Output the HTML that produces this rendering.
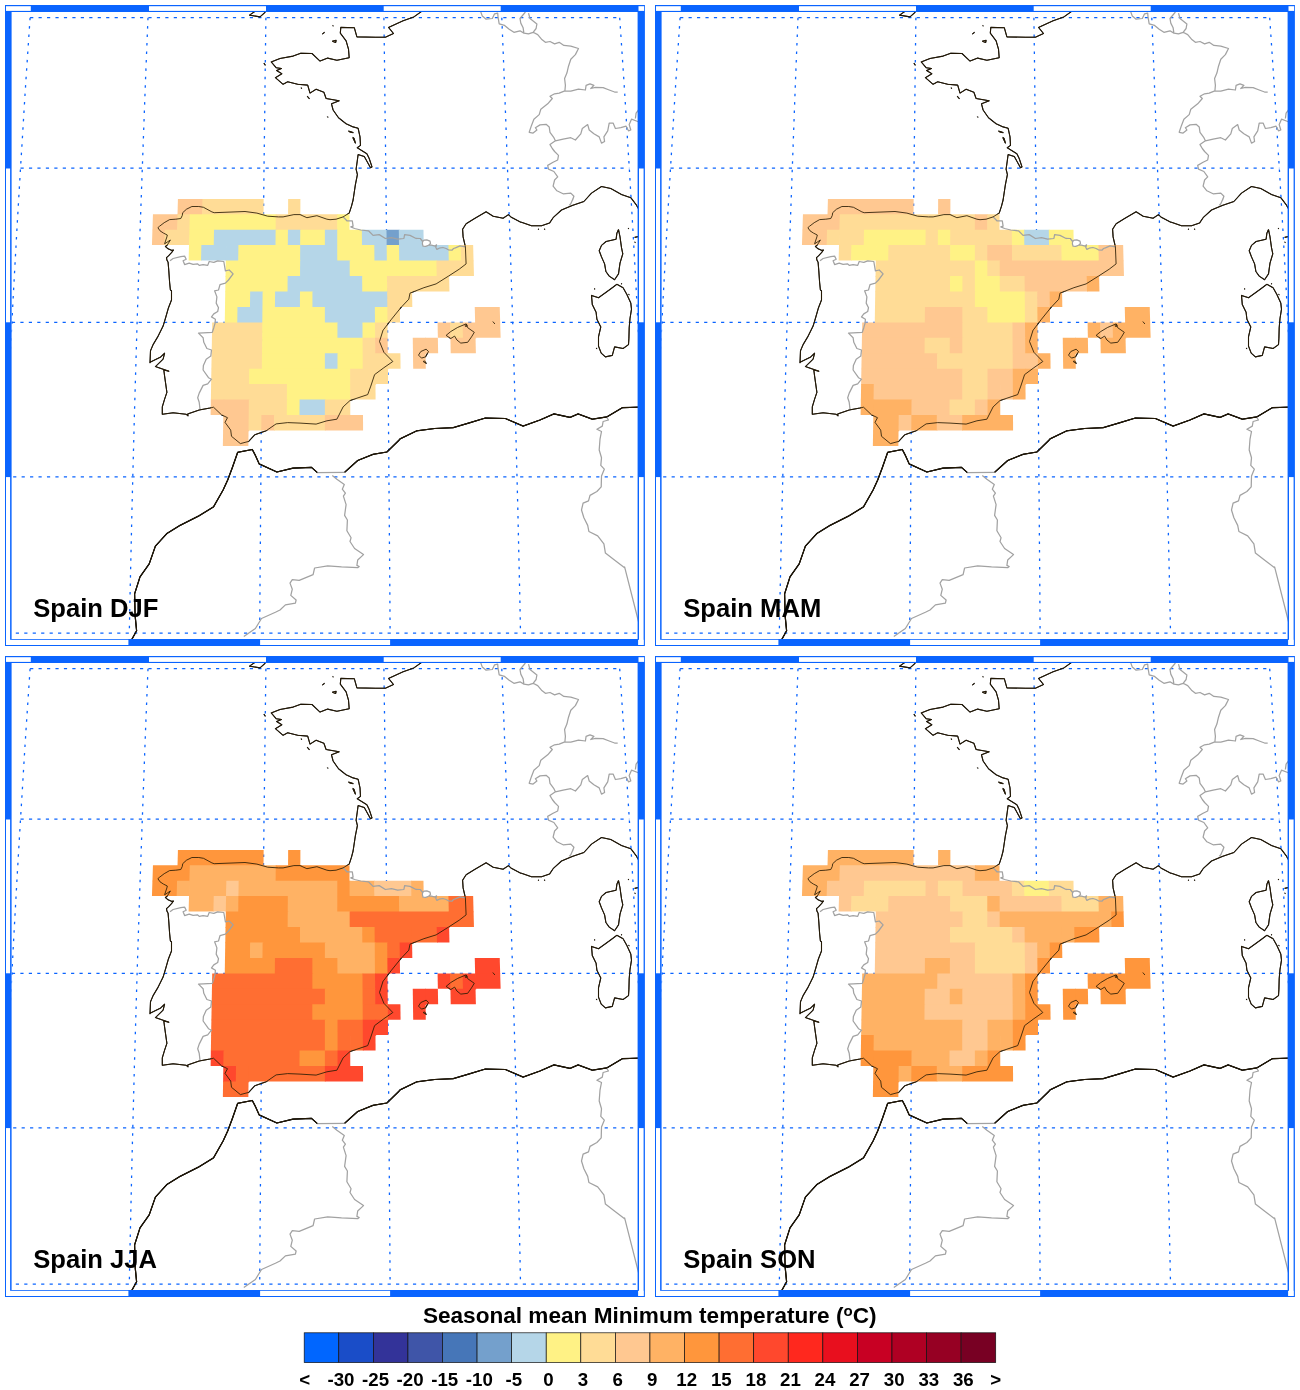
<!DOCTYPE html>
<html><head><meta charset="utf-8"><title>Seasonal mean Minimum temperature</title>
<style>html,body{margin:0;padding:0;background:#fff}svg{display:block}text{font-family:"Liberation Sans",sans-serif;font-weight:bold;fill:#000}</style></head><body>
<svg width="1300" height="1390" viewBox="0 0 1300 1390">
<rect width="1300" height="1390" fill="#fff"/>
<clipPath id="cp"><rect x="11.6" y="11.9" width="626.4" height="627.1"/></clipPath>
<g transform="translate(0 0)">
<g clip-path="url(#cp)">
<path d="M30.1 17.7L28.1 47.6L26.1 77.6L24.2 107.7L22.4 137.9L20.5 168.2L18.7 198.9L16.9 229.7L15.2 260.5L13.5 291.4L11.9 322.4L10.3 353.2L8.9 384.1L7.4 415L6.1 445.9L4.7 476.9L3.5 508.1L2.2 539.4L1 570.6L-0.1 601.9L-1.1 633.1M148 17.7L146.8 47.6L145.6 77.6L144.5 107.7L143.4 137.9L142.3 168.2L141.2 198.9L140.1 229.7L139.1 260.5L138.1 291.4L137.1 322.4L136.2 353.2L135.3 384.1L134.4 415L133.6 445.9L132.8 476.9L132 508.1L131.3 539.4L130.6 570.6L129.9 601.9L129.3 633.1M265.9 17.7L265.5 47.6L265.1 77.6L264.8 107.7L264.4 137.9L264 168.2L263.7 198.9L263.3 229.7L263 260.5L262.6 291.4L262.3 322.4L262 353.2L261.7 384.1L261.4 415L261.1 445.9L260.9 476.9L260.6 508.1L260.4 539.4L260.1 570.6L259.9 601.9L259.7 633.1M383.9 17.7L384.3 47.6L384.7 77.6L385 107.7L385.4 137.9L385.8 168.2L386.1 198.9L386.5 229.7L386.8 260.5L387.2 291.4L387.5 322.4L387.8 353.2L388.1 384.1L388.4 415L388.7 445.9L388.9 476.9L389.2 508.1L389.4 539.4L389.7 570.6L389.9 601.9L390.1 633.1M501.8 17.7L503 47.6L504.2 77.6L505.3 107.7L506.4 137.9L507.5 168.2L508.6 198.9L509.7 229.7L510.7 260.5L511.7 291.4L512.7 322.4L513.6 353.2L514.5 384.1L515.4 415L516.2 445.9L517 476.9L517.8 508.1L518.5 539.4L519.2 570.6L519.9 601.9L520.5 633.1M619.7 17.7L621.7 47.6L623.7 77.6L625.6 107.7L627.4 137.9L629.3 168.2L631.1 198.9L632.9 229.7L634.6 260.5L636.3 291.4L637.9 322.4L639.5 353.2L640.9 384.1L642.4 415L643.7 445.9L645.1 476.9L646.3 508.1L647.6 539.4L648.8 570.6L649.9 601.9L650.9 633.1" fill="none" stroke="#0a64ff" stroke-width="1.3" stroke-dasharray="2.5 5.95"/><path d="M30.1 17.7H619.7M20.5 168.2H629.3M11.9 322.4H637.9M4.7 476.9H645.1M-1.1 633.1H650.9" fill="none" stroke="#0a64ff" stroke-width="1.3" stroke-dasharray="3.2 5.25"/>
<path d="M421.5 11.5L413.9 16.9L403.1 20.8L388.5 27.4L393.5 33.5L385.4 37.2L375.4 37.2L356.9 36.9L354.3 27.7L340.8 27.4L340.3 33.1L346.1 40.8L348.5 49.2L349.2 57.7L336.9 60.3L327.7 58.1L320 61.1L312 53.5L300.8 53.2L293.1 56.1L280 58.5L271.2 61.9L276.1 67.7L281.5 68.5L276.6 70.5L281.9 73.8L275.4 77.7L283.1 84.3L287.7 81.8L297.7 84.3L307.7 85.1L310 93.1L316.1 89.2L323.9 92.3L326.1 98.5L339.2 100.8L331.5 103.8L333.1 110L338.5 117.7L346.1 123.8L353.1 126.9L358.1 128.2L360 136.9L360.5 145.4L357.2 147.7L366.9 153.8L369.2 158.5L372 166.9L370.5 167.7L364.3 156.6L358.1 154.6L357.2 161.5L356.1 169.2L357.4 174.6L355.4 184.6L353.1 200L351.5 206.2L349.2 213.1L343.1 216.9L336.1 219.2L330 219.7L326.9 219.2L316.9 215.7L306.9 217.7L300 214.6L293.9 214.6L283.1 216.9L278.5 216.9L267.7 216.2L256.9 213.1L245 211.5L214.2 212.7L211.9 211.9L203.5 207.3L198.8 206.5L191.9 206.5L186.5 209.2L182.7 212.7L182.3 215.4L180.8 218.5L175.8 219.2L169.6 219.6L164.2 222.7L159.6 226.2L157.9 227.7L160 230.8L163.5 233.1L167.3 235L166.9 236.9L164.6 243.8L170.4 240L167.3 245L165.4 246.5L168.1 248.8L171.9 250.4L173.5 250L171.5 252.7L168.5 255.8L166.5 257.7L166.9 260L168.1 262.3L168.8 270.8L169.6 282.3L170.4 290L171.5 290.8L171.5 300L168.5 307.7L165.4 318.5L163.1 326.1L157.7 336.9L153.1 344.6L150.5 350.8L150 362.8L150 362.3L160.8 356.9L164.6 353.1L163.1 359.2L155.4 366.6L163.1 369.2L168.9 371.2L163.8 370L164.6 376.1L166.9 392.3L164.6 399.2L162.3 406.9L162.3 414.3L173.1 412.8L186.2 414.3L188 415.9L187.7 413.9L199.2 410L210 408L213.5 407.2L221.5 414.8L227.5 417.7L225 422.3L230.7 430.1L231.5 436.3L240.4 443.6L248.7 441.4L254.9 434.7L266.1 430.8L276.1 423.9L287.7 422.6L300 423.1L316.1 424.1L326.9 420.8L336.9 419.2L343.1 406.9L350 400.5L367.7 394.6L370.8 386.1L374.6 374.6L383.9 367.7L392.8 361.5L383.9 352.3L379.5 341.5L383.1 330L383.9 329.2L391.5 319.2L400.8 307.7L408.8 299.2L410 293.1L423.9 287.7L436.1 283.9L448.5 276.1L459.2 269.2L466.1 263.9L465.4 246.9L463.1 236.9L462.6 229.2L466.1 223.8L474.6 218.5L486.1 211.8L493.1 216.2L503.1 218.2L508.5 214.6L510.8 216.9L520.8 222.3L521.5 222.3L531.5 225.8L541.5 225.8L549.5 223.1L553.1 217.7L561.5 210L572.3 205.4L583.9 201.5L591.5 193.1L601.5 186.5L610.8 188.5L621.5 194.6L630.8 197.7L636.1 204.6L639.2 210M332.3 41.2L336.1 40.3L335.7 42.5L332.3 41.2M322.3 34.1L324.6 32.3M332.6 25.5L333.4 26.1M300.9 87.7L301.9 88.6M307.2 96.2L309.5 98.9M327.4 116.6L328.1 117.4M348.5 131.1L353.1 132.6L350 132L348.5 131.1M352.8 137.4L355.4 143.1L354.1 138.5L352.8 137.4M263.9 63.1L265.4 65.4M265.4 12L260 16.9L249.5 15.1L255.4 11.1M446.1 335.4L450.8 338.5L454.6 336.1L456.9 340L460.8 343.1L467.7 342.3L471.5 336.9L474.3 332.3L467.7 327.7L466.1 323.9L457.7 327.4L450.8 331.5L446.1 335.4M465.1 325.4L466.6 324.3L467.2 326.1L465.4 326.5L465.1 325.4M418.5 355.1L420.8 351.5L426.1 349.2L428.5 351.5L425.4 356.9L421.5 358.1L418.5 355.1M423.1 361.5L426.1 363.4L424.6 360.9L423.1 361.5M492.8 321.5L494.9 324M618.5 229.5L620 236.9L621.5 247.7L622.8 253.8L620 263.1L618.5 273.9L614.6 279.7L609.2 276.1L605.9 271.5L604.6 263.9L601.5 256.9L599.2 250.8L601.5 245.4L606.1 241.5L616.1 239.2L616.9 233.1L618.5 229.5M616.9 284.3L623.1 287.7L626.9 294.6L630.8 303.1L631.5 309.2L630 318.5L629.2 327.7L628.9 338.5L628.5 344.6L623.1 348.5L614.6 346.9L612.3 355.4L605.4 356.9L601.2 353.1L598.5 346.1L598.5 336.9L600.8 326.9L596.9 319.2L596.1 312.3L592.3 304.6L591.5 295.4L598.5 297.7L606.1 292.3L612.3 287.7L616.9 284.3M538 228.9L538.9 229.5M544.1 228.9L545.1 229.5M594.1 288.6L595.1 289.2M628 228.2L628.9 228.8M628.5 294.3L629.4 294.9M621.1 283.5L622 284.1M596.1 348.1L597.1 348.8M634.6 242L635.5 242.6M634.6 237.4L638.8 236.5M131.5 640L136.6 630.8L135.1 615.4L134.6 593.9L140 576.9L149.2 563.9L155.4 546.1L166.9 533.5L180 525.4L198.5 516.1L213.5 506.9L223.1 490L227.7 480L232.3 467.7L237.7 452.3L252.3 449.5L255.4 455.4L259.2 463.9L276.9 472L293.1 468.1L311.5 467.4L317.4 472.6M344.6 472.3L357.7 460.5L373.1 454.3L386.9 452L399.2 440L400 438.9L416.9 430.8L434.6 428.5L453.1 427.7L468.5 423.1L485.4 418L505.4 418.5L523.1 426.1L540 420L553.9 413.9L570 417.4L578.1 413.9L592.3 419.2L606.9 416.9L622.3 407.7L639.2 407.2" fill="none" stroke="#050505" stroke-width="1.1" stroke-linejoin="round"/><path d="M131.5 640L136.6 630.8L135.1 615.4L134.6 593.9L140 576.9L149.2 563.9L155.4 546.1L166.9 533.5L180 525.4L198.5 516.1L213.5 506.9L223.1 490L227.7 480L232.3 467.7L237.7 452.3L252.3 449.5L255.4 455.4L259.2 463.9L276.9 472L293.1 468.1L311.5 467.4L317.4 472.6M344.6 472.3L357.7 460.5L373.1 454.3L386.9 452L399.2 440L400 438.9L416.9 430.8L434.6 428.5L453.1 427.7L468.5 423.1L485.4 418L505.4 418.5L523.1 426.1L540 420L553.9 413.9L570 417.4L578.1 413.9L592.3 419.2L606.9 416.9L622.3 407.7L639.2 407.2" fill="none" stroke="#050505" stroke-width="1.25" stroke-linejoin="round"/>
<path fill="#ffc891" d="M177.93 198.89L203.13 198.89L202.77 214.97L177.50 214.97Z"/>
<path fill="#ffdc96" d="M202.43 198.89L263.66 198.89L263.49 214.97L202.07 214.97Z"/>
<path fill="#ffdc96" d="M288.16 198.89L300.41 198.89L300.33 214.97L288.05 214.97Z"/>
<path fill="#ffc891" d="M152.94 214.27L178.20 214.27L177.78 230.37L152.44 230.37Z"/>
<path fill="#ffdc96" d="M177.50 214.27L190.49 214.27L190.10 230.37L177.08 230.37Z"/>
<path fill="#fff285" d="M189.79 214.27L276.47 214.27L276.33 230.37L189.40 230.37Z"/>
<path fill="#ffdc96" d="M275.77 214.27L337.88 214.27L337.92 230.37L275.63 230.37Z"/>
<path fill="#fff285" d="M337.18 214.27L349.47 214.27L349.54 230.37L337.22 230.37Z"/>
<path fill="#ffc891" d="M152.44 229.67L165.46 229.67L165.01 245.09L151.95 245.09Z"/>
<path fill="#ffdc96" d="M164.76 229.67L190.10 229.67L189.71 245.09L164.31 245.09Z"/>
<path fill="#fff285" d="M189.40 229.67L214.73 229.67L214.42 245.79L189.01 245.79Z"/>
<path fill="#b5d6e8" d="M214.03 229.67L276.33 229.67L276.19 245.79L213.72 245.79Z"/>
<path fill="#fff285" d="M275.63 229.67L288.64 229.67L288.54 245.79L275.49 245.79Z"/>
<path fill="#b5d6e8" d="M287.94 229.67L300.96 229.67L300.89 245.79L287.84 245.79Z"/>
<path fill="#fff285" d="M300.26 229.67L325.60 229.67L325.60 245.79L300.19 245.79Z"/>
<path fill="#b5d6e8" d="M324.90 229.67L337.92 229.67L337.95 245.79L324.90 245.79Z"/>
<path fill="#fff285" d="M337.22 229.67L362.56 229.67L362.66 245.79L337.25 245.79Z"/>
<path fill="#b5d6e8" d="M361.86 229.67L387.19 229.67L387.37 245.79L361.96 245.79Z"/>
<path fill="#74a0cc" d="M386.49 229.67L399.51 229.67L399.72 245.79L386.67 245.79Z"/>
<path fill="#b5d6e8" d="M398.81 229.67L423.45 229.67L423.73 245.79L399.02 245.79Z"/>
<path fill="#fff285" d="M189.01 245.09L202.07 245.09L201.72 260.52L188.63 260.52Z"/>
<path fill="#b5d6e8" d="M201.37 245.09L226.77 245.09L226.50 260.52L201.02 260.52Z"/>
<path fill="#b5d6e8" d="M226.07 245.09L239.13 245.09L238.89 261.22L225.80 261.22Z"/>
<path fill="#fff285" d="M238.43 245.09L300.89 245.09L300.82 261.22L238.19 261.22Z"/>
<path fill="#b5d6e8" d="M300.19 245.09L337.95 245.09L337.99 261.22L300.12 261.22Z"/>
<path fill="#fff285" d="M337.25 245.09L375.01 245.09L375.15 261.22L337.29 261.22Z"/>
<path fill="#b5d6e8" d="M374.31 245.09L387.37 245.09L387.54 261.22L374.45 261.22Z"/>
<path fill="#fff285" d="M386.67 245.09L399.72 245.09L399.93 261.22L386.84 261.22Z"/>
<path fill="#b5d6e8" d="M399.02 245.09L449.13 245.09L449.48 261.22L399.23 261.22Z"/>
<path fill="#fff285" d="M448.43 245.09L461.49 245.09L461.87 261.22L448.78 261.22Z"/>
<path fill="#ffdc96" d="M460.79 245.09L473.14 245.09L473.55 261.22L461.17 261.22Z"/>
<path fill="#fff285" d="M225.80 260.52L300.82 260.52L300.76 276.67L225.53 276.67Z"/>
<path fill="#b5d6e8" d="M300.12 260.52L350.38 260.52L350.44 276.67L300.06 276.67Z"/>
<path fill="#fff285" d="M349.68 260.52L437.09 260.52L437.40 276.67L349.74 276.67Z"/>
<path fill="#ffdc96" d="M436.39 260.52L449.48 260.52L449.82 276.67L436.70 276.67Z"/>
<path fill="#ffdc96" d="M448.78 260.52L473.55 260.52L473.96 275.97L449.12 275.97Z"/>
<path fill="#fff285" d="M225.53 275.97L288.33 275.97L288.23 292.13L225.26 292.13Z"/>
<path fill="#b5d6e8" d="M287.63 275.97L362.87 275.97L362.97 292.13L287.53 292.13Z"/>
<path fill="#fff285" d="M362.17 275.97L387.71 275.97L387.88 292.13L362.27 292.13Z"/>
<path fill="#ffdc96" d="M387.01 275.97L412.55 275.97L412.79 292.13L387.18 292.13Z"/>
<path fill="#ffdc96" d="M411.85 275.97L449.12 275.97L449.45 291.43L412.09 291.43Z"/>
<path fill="#fff285" d="M225.26 291.43L250.87 291.43L250.67 307.61L225.00 307.61Z"/>
<path fill="#b5d6e8" d="M250.17 291.43L263.32 291.43L263.16 307.61L249.97 307.61Z"/>
<path fill="#fff285" d="M262.62 291.43L275.78 291.43L275.65 307.61L262.46 307.61Z"/>
<path fill="#b5d6e8" d="M275.08 291.43L300.69 291.43L300.62 307.61L274.95 307.61Z"/>
<path fill="#fff285" d="M299.99 291.43L313.14 291.43L313.11 307.61L299.92 307.61Z"/>
<path fill="#b5d6e8" d="M312.44 291.43L387.88 291.43L388.04 307.61L312.41 307.61Z"/>
<path fill="#ffdc96" d="M387.18 291.43L400.33 291.43L400.53 307.61L387.34 307.61Z"/>
<path fill="#ffdc96" d="M399.63 291.43L412.09 291.43L412.32 306.91L399.83 306.91Z"/>
<path fill="#fff285" d="M225.00 306.91L238.18 306.91L237.96 323.10L224.74 323.10Z"/>
<path fill="#b5d6e8" d="M237.48 306.91L263.16 306.91L263.00 323.10L237.26 323.10Z"/>
<path fill="#fff285" d="M262.46 306.91L325.60 306.91L325.60 323.10L262.30 323.10Z"/>
<path fill="#b5d6e8" d="M324.90 306.91L375.55 306.91L375.68 323.10L324.90 323.10Z"/>
<path fill="#fff285" d="M374.85 306.91L388.04 306.91L388.20 323.10L374.98 323.10Z"/>
<path fill="#ffdc96" d="M387.34 306.91L399.83 306.91L400.02 322.40L387.50 322.40Z"/>
<path fill="#ffc891" d="M474.75 306.91L499.73 306.91L500.18 323.10L475.14 323.10Z"/>
<path fill="#ffdc96" d="M212.22 322.40L263.00 322.40L262.84 338.50L211.94 338.50Z"/>
<path fill="#fff285" d="M262.30 322.40L338.12 322.40L338.15 338.50L262.14 338.50Z"/>
<path fill="#b5d6e8" d="M337.42 322.40L363.16 322.40L363.25 338.50L337.45 338.50Z"/>
<path fill="#fff285" d="M362.46 322.40L375.68 322.40L375.81 338.50L362.55 338.50Z"/>
<path fill="#ffdc96" d="M374.98 322.40L387.50 322.40L387.66 338.50L375.11 338.50Z"/>
<path fill="#ffc891" d="M437.58 322.40L450.80 322.40L451.11 337.80L437.86 337.80Z"/>
<path fill="#ffdc96" d="M450.10 322.40L463.32 322.40L463.67 338.50L450.41 338.50Z"/>
<path fill="#ffc891" d="M462.62 322.40L475.84 322.40L476.22 338.50L462.97 338.50Z"/>
<path fill="#ffc891" d="M475.14 322.40L500.18 322.40L500.62 337.80L475.52 337.80Z"/>
<path fill="#ffdc96" d="M211.94 337.80L262.84 337.80L262.69 353.92L211.66 353.92Z"/>
<path fill="#fff285" d="M262.14 337.80L363.25 337.80L363.35 353.92L261.99 353.92Z"/>
<path fill="#ffdc96" d="M362.55 337.80L375.81 337.80L375.93 353.92L362.65 353.92Z"/>
<path fill="#ffc891" d="M375.11 337.80L387.66 337.80L387.81 353.92L375.23 353.92Z"/>
<path fill="#ffc891" d="M412.76 337.80L426.01 337.80L426.26 353.92L412.98 353.92Z"/>
<path fill="#ffc891" d="M425.31 337.80L437.86 337.80L438.14 353.22L425.56 353.22Z"/>
<path fill="#ffc891" d="M450.41 337.80L475.52 337.80L475.89 353.22L450.72 353.22Z"/>
<path fill="#ffdc96" d="M211.66 353.22L262.69 353.22L262.54 369.34L211.39 369.34Z"/>
<path fill="#fff285" d="M261.99 353.22L325.60 353.22L325.60 369.34L261.84 369.34Z"/>
<path fill="#b5d6e8" d="M324.90 353.22L338.18 353.22L338.21 369.34L324.90 369.34Z"/>
<path fill="#fff285" d="M337.48 353.22L363.35 353.22L363.44 369.34L337.51 369.34Z"/>
<path fill="#ffdc96" d="M362.65 353.22L388.51 353.22L388.66 369.34L362.74 369.34Z"/>
<path fill="#ffdc96" d="M387.81 353.22L400.39 353.22L400.57 368.64L387.96 368.64Z"/>
<path fill="#ffc891" d="M412.98 353.22L425.56 353.22L425.80 368.64L413.19 368.64Z"/>
<path fill="#ffdc96" d="M211.39 368.64L249.93 368.64L249.75 384.78L211.12 384.78Z"/>
<path fill="#fff285" d="M249.23 368.64L350.82 368.64L350.88 384.78L249.05 384.78Z"/>
<path fill="#ffdc96" d="M350.12 368.64L376.05 368.64L376.17 384.78L350.18 384.78Z"/>
<path fill="#ffdc96" d="M375.35 368.64L387.96 368.64L388.11 384.08L375.47 384.08Z"/>
<path fill="#ffdc96" d="M211.12 384.08L287.67 384.08L287.59 400.23L210.87 400.23Z"/>
<path fill="#fff285" d="M286.97 384.08L350.88 384.08L350.94 400.23L286.89 400.23Z"/>
<path fill="#ffdc96" d="M350.18 384.08L375.47 384.08L375.58 399.53L350.24 399.53Z"/>
<path fill="#ffc891" d="M210.87 399.53L224.24 399.53L224.01 414.98L210.61 414.98Z"/>
<path fill="#ffc891" d="M223.54 399.53L249.58 399.53L249.41 415.68L223.31 415.68Z"/>
<path fill="#ffdc96" d="M248.88 399.53L287.59 399.53L287.50 415.68L248.71 415.68Z"/>
<path fill="#fff285" d="M286.89 399.53L300.26 399.53L300.20 415.68L286.80 415.68Z"/>
<path fill="#b5d6e8" d="M299.56 399.53L325.60 399.53L325.60 415.68L299.50 415.68Z"/>
<path fill="#ffdc96" d="M324.90 399.53L350.24 399.53L350.30 415.68L324.90 415.68Z"/>
<path fill="#ffc891" d="M223.31 414.98L249.41 414.98L249.24 431.14L223.09 431.14Z"/>
<path fill="#ffdc96" d="M248.71 414.98L262.11 414.98L261.97 430.44L248.54 430.44Z"/>
<path fill="#ffc891" d="M261.41 414.98L274.80 414.98L274.69 430.44L261.27 430.44Z"/>
<path fill="#ffdc96" d="M274.10 414.98L325.60 414.98L325.60 430.44L273.99 430.44Z"/>
<path fill="#ffc891" d="M324.90 414.98L363.00 414.98L363.08 430.44L324.90 430.44Z"/>
<path fill="#ffc891" d="M223.09 430.44L248.54 430.44L248.38 445.91L222.87 445.91Z"/>
<path fill="#fff" d="M422.6 241.5L424 240.2L426.8 239.9L430 241.1L430.5 243.4L428.6 245.2L425.8 246.4L423.1 246.2L422.4 243.8L422.6 241.5Z"/>
<path d="M317.4 472.6L344.6 472.3M170 260.8L173.1 258.5L180.8 256.6L184.6 256.1L186.2 259.2L183.1 260.8L184.6 264.6L189.2 263.1L193.1 264.3L197.7 263.9L199.2 265.4L203.1 264.6L207.7 265.4L209.2 261.5L213.8 262.3L217.7 260.8L223.8 261.5L225.4 270.8L229.2 270L233.1 273.9L228.5 280L225.4 283.1L220 284.6L218.5 290L214.6 290.8L216.9 296.9L216.2 303.1L218.5 307.7L217.7 311.5L213.8 313.9L211.5 316.9L215.4 319.2L215.1 323.1L213.8 327.7L212.3 332.3L198.5 333.1L198.5 333.1L203.1 337.7L203.8 342.3L206.9 348.5L211.5 350L210.8 356.1L206.2 359.2L203.4 365.4L203.1 370L208.5 377.7L211.5 379.2L207.7 383.9L203.1 385.4L199.2 393.1L197.7 397.7L199.2 402.3L200 409.2M343.1 216.9L346.9 220.8L352.3 220.8L353.1 226.2L350.8 226.9L354.6 228.5L360.8 230L368.5 230.8L373.1 235.4L379.2 234.6L385.4 238.5L391.5 237.7L397.7 239.2L403.9 238.5L404.6 234.6L410 235.4L416.1 238.5L415.9 238.3L420.3 238.5L422.6 241.5L422.4 243.8L423.1 246.2L425.8 246.4L428.6 245.2L431.4 245.2L435.1 246.2L436.5 244.8L435.8 247.5L436.9 249.4L439.2 248.2L442.9 247.5L446.1 248.5L448.4 249.8L452.1 250.1L453.5 248.5L455.4 247.8L460 245.9L465.4 246.9M422.6 241.5L424 240.2L426.8 239.9L430 241.1L430.5 243.4L428.6 245.2L425.8 246.4L423.1 246.2L422.4 243.8L422.6 241.5M480.8 12L482.3 16.1L486.1 19.2L492.3 18.5L494.6 13.8L497.7 13.1L498.1 17.7L499.2 23.9L504.6 25.4L509.2 29.2L513.9 32.3L520 30.8L523.9 33.1L528.5 33.9L533.1 32.3L537.7 34.6L541.5 39.2L545.4 42.3L550 41.5L554.6 43.9L559.2 42.3L563.9 45.4L570.8 46.1L578.5 48.5L575.4 54.6L570.8 59.2L568.5 66.2L566.9 73.1L564.6 78.5L565.4 85.4L564.9 90.8M525.4 12L520 18.5L520.8 23.1L523.1 27.7L523.9 33.1M528.5 13.1L530 18.5L536.9 23.9L536.1 28.5L533.1 32.3M564.9 90.8L570.8 91.1L578.5 89.2L585.4 90L586.1 85.4L590 83.8L593.9 85.4L590.8 88.5L595.4 87.4L603.1 87.7L609.2 90L614.6 92L617.7 92M564.9 90.8L559.2 93.1L554.6 93.8L550 96.2L552.3 98.5L547.7 103.8L540.8 109.2L539.2 114.6L533.9 119.2L531.5 125.4L529.2 132.3L533.1 133.1L536.9 130L535.4 127.7L540 124.9L546.1 124.3L549.2 126.9L550 132.3L553.9 137.7L555.4 140.8M555.4 140.8L563.1 139.2L570.8 137.7L575.4 140L580.8 133.8L582.3 128.5L587.7 124.6L589.2 130L593.9 133.8L599.2 136.9L601.5 143.1L604.6 141.5L603.9 136.9L607.7 130.8L609.2 123.1L613.1 123.1L615.4 128.5L620.8 127.7L626.1 126.2L628.5 130.8L630.8 130L629.2 124.6L631.5 119.2L637.7 121.5L640 121.5M635.4 118.5L636.1 113.1L638.5 110M555.4 140.8L550 144.6L552.3 148.5L554.6 151.5L558.5 155.4L557.7 160L553.1 162.3L547.7 165.4L548.5 169.2L553.9 171.5L557.7 176.9L554.6 180L553.1 186.2L556.9 190.8L563.1 193.8L570.8 193.1L573.9 196.2L572.6 200L573.1 198.5L570.8 203.8L569.2 205.4M332.3 475.4L336.9 479.2L344.3 484.6L342.3 489.2L345.4 493.1L343.4 496.1L346.1 504.6L344.6 515.4L347.4 520L346.9 530.8L351.1 537.7L350 541.5L354.6 548.5L363.5 554.6L357.7 560L356.9 565.4L359.2 566.5L357.7 567.7L341.5 566.9L327.7 565.9L314.6 568L313.1 574.6L299.2 580.3L292.3 579.7L290 583.1L292.3 589.2L290.8 595.4L296.1 600L295.4 603.1L285.4 604.9L280 610L275.4 612.3L261.5 618.5L255.4 628.5L243.8 636.6M606.9 417.7L608.5 420L603.1 421.5L602.3 426.1L596.9 429.2L601.5 431.5L600 439.2L599.2 450L601.5 457.7L600.8 465.4L604.3 469.2L601.5 476.1L601.2 486.9L596.9 491.5L590 495.4L588.5 500.8L583.1 503.1L581.5 510L583.9 517.7L587.7 525.4L588.9 531.5L597.7 535.9L603.9 543.9L605.4 553.1L615.4 560.8L624.6 567.7L624.6 566.9L638.5 621.5" fill="none" stroke="#a2a2a2" stroke-width="1.25" stroke-linejoin="round"/>
<path d="M421.5 11.5L413.9 16.9L403.1 20.8L388.5 27.4L393.5 33.5L385.4 37.2L375.4 37.2L356.9 36.9L354.3 27.7L340.8 27.4L340.3 33.1L346.1 40.8L348.5 49.2L349.2 57.7L336.9 60.3L327.7 58.1L320 61.1L312 53.5L300.8 53.2L293.1 56.1L280 58.5L271.2 61.9L276.1 67.7L281.5 68.5L276.6 70.5L281.9 73.8L275.4 77.7L283.1 84.3L287.7 81.8L297.7 84.3L307.7 85.1L310 93.1L316.1 89.2L323.9 92.3L326.1 98.5L339.2 100.8L331.5 103.8L333.1 110L338.5 117.7L346.1 123.8L353.1 126.9L358.1 128.2L360 136.9L360.5 145.4L357.2 147.7L366.9 153.8L369.2 158.5L372 166.9L370.5 167.7L364.3 156.6L358.1 154.6L357.2 161.5L356.1 169.2L357.4 174.6L355.4 184.6L353.1 200L351.5 206.2L349.2 213.1L343.1 216.9L336.1 219.2L330 219.7L326.9 219.2L316.9 215.7L306.9 217.7L300 214.6L293.9 214.6L283.1 216.9L278.5 216.9L267.7 216.2L256.9 213.1L245 211.5L214.2 212.7L211.9 211.9L203.5 207.3L198.8 206.5L191.9 206.5L186.5 209.2L182.7 212.7L182.3 215.4L180.8 218.5L175.8 219.2L169.6 219.6L164.2 222.7L159.6 226.2L157.9 227.7L160 230.8L163.5 233.1L167.3 235L166.9 236.9L164.6 243.8L170.4 240L167.3 245L165.4 246.5L168.1 248.8L171.9 250.4L173.5 250L171.5 252.7L168.5 255.8L166.5 257.7L166.9 260L168.1 262.3L168.8 270.8L169.6 282.3L170.4 290L171.5 290.8L171.5 300L168.5 307.7L165.4 318.5L163.1 326.1L157.7 336.9L153.1 344.6L150.5 350.8L150 362.8L150 362.3L160.8 356.9L164.6 353.1L163.1 359.2L155.4 366.6L163.1 369.2L168.9 371.2L163.8 370L164.6 376.1L166.9 392.3L164.6 399.2L162.3 406.9L162.3 414.3L173.1 412.8L186.2 414.3L188 415.9L187.7 413.9L199.2 410L210 408L213.5 407.2L221.5 414.8L227.5 417.7L225 422.3L230.7 430.1L231.5 436.3L240.4 443.6L248.7 441.4L254.9 434.7L266.1 430.8L276.1 423.9L287.7 422.6L300 423.1L316.1 424.1L326.9 420.8L336.9 419.2L343.1 406.9L350 400.5L367.7 394.6L370.8 386.1L374.6 374.6L383.9 367.7L392.8 361.5L383.9 352.3L379.5 341.5L383.1 330L383.9 329.2L391.5 319.2L400.8 307.7L408.8 299.2L410 293.1L423.9 287.7L436.1 283.9L448.5 276.1L459.2 269.2L466.1 263.9L465.4 246.9L463.1 236.9L462.6 229.2L466.1 223.8L474.6 218.5L486.1 211.8L493.1 216.2L503.1 218.2L508.5 214.6L510.8 216.9L520.8 222.3L521.5 222.3L531.5 225.8L541.5 225.8L549.5 223.1L553.1 217.7L561.5 210L572.3 205.4L583.9 201.5L591.5 193.1L601.5 186.5L610.8 188.5L621.5 194.6L630.8 197.7L636.1 204.6L639.2 210M332.3 41.2L336.1 40.3L335.7 42.5L332.3 41.2M322.3 34.1L324.6 32.3M332.6 25.5L333.4 26.1M300.9 87.7L301.9 88.6M307.2 96.2L309.5 98.9M327.4 116.6L328.1 117.4M348.5 131.1L353.1 132.6L350 132L348.5 131.1M352.8 137.4L355.4 143.1L354.1 138.5L352.8 137.4M263.9 63.1L265.4 65.4M265.4 12L260 16.9L249.5 15.1L255.4 11.1M446.1 335.4L450.8 338.5L454.6 336.1L456.9 340L460.8 343.1L467.7 342.3L471.5 336.9L474.3 332.3L467.7 327.7L466.1 323.9L457.7 327.4L450.8 331.5L446.1 335.4M465.1 325.4L466.6 324.3L467.2 326.1L465.4 326.5L465.1 325.4M418.5 355.1L420.8 351.5L426.1 349.2L428.5 351.5L425.4 356.9L421.5 358.1L418.5 355.1M423.1 361.5L426.1 363.4L424.6 360.9L423.1 361.5M492.8 321.5L494.9 324M618.5 229.5L620 236.9L621.5 247.7L622.8 253.8L620 263.1L618.5 273.9L614.6 279.7L609.2 276.1L605.9 271.5L604.6 263.9L601.5 256.9L599.2 250.8L601.5 245.4L606.1 241.5L616.1 239.2L616.9 233.1L618.5 229.5M616.9 284.3L623.1 287.7L626.9 294.6L630.8 303.1L631.5 309.2L630 318.5L629.2 327.7L628.9 338.5L628.5 344.6L623.1 348.5L614.6 346.9L612.3 355.4L605.4 356.9L601.2 353.1L598.5 346.1L598.5 336.9L600.8 326.9L596.9 319.2L596.1 312.3L592.3 304.6L591.5 295.4L598.5 297.7L606.1 292.3L612.3 287.7L616.9 284.3M538 228.9L538.9 229.5M544.1 228.9L545.1 229.5M594.1 288.6L595.1 289.2M628 228.2L628.9 228.8M628.5 294.3L629.4 294.9M621.1 283.5L622 284.1M596.1 348.1L597.1 348.8M634.6 242L635.5 242.6M634.6 237.4L638.8 236.5M131.5 640L136.6 630.8L135.1 615.4L134.6 593.9L140 576.9L149.2 563.9L155.4 546.1L166.9 533.5L180 525.4L198.5 516.1L213.5 506.9L223.1 490L227.7 480L232.3 467.7L237.7 452.3L252.3 449.5L255.4 455.4L259.2 463.9L276.9 472L293.1 468.1L311.5 467.4L317.4 472.6M344.6 472.3L357.7 460.5L373.1 454.3L386.9 452L399.2 440L400 438.9L416.9 430.8L434.6 428.5L453.1 427.7L468.5 423.1L485.4 418L505.4 418.5L523.1 426.1L540 420L553.9 413.9L570 417.4L578.1 413.9L592.3 419.2L606.9 416.9L622.3 407.7L639.2 407.2" fill="none" stroke="#2b1d05" stroke-opacity="0.9" stroke-width="0.95" stroke-linejoin="round"/>
</g>
<path fill="#0a64ff" fill-rule="evenodd" d="M5.0 4.9H644.9V645.9H5.0ZM11.6 11.9V639.0H637.6V11.9Z"/>
<rect fill="#fff" x="6" y="6.2" width="24.8" height="4.7"/>
<rect fill="#fff" x="149" y="6.2" width="117" height="4.7"/>
<rect fill="#fff" x="383.7" y="6.2" width="117" height="4.7"/>
<rect fill="#fff" x="638.5" y="6.2" width="5.6" height="4.7"/>
<rect fill="#fff" x="6" y="639.8" width="122.4" height="5.2"/>
<rect fill="#fff" x="260.1" y="639.8" width="130" height="5.2"/>
<rect fill="#fff" x="638.1" y="639.8" width="5.5" height="5.2"/>
<rect fill="#fff" x="6" y="168.5" width="4.1" height="153.8"/>
<rect fill="#fff" x="6" y="477.1" width="4.1" height="167.9"/>
<rect fill="#fff" x="639" y="168.5" width="4.6" height="153.8"/>
<rect fill="#fff" x="639" y="477.1" width="4.6" height="167.9"/>
<text x="33.3" y="617.2" font-size="25.6">Spain DJF</text>
</g>
<g transform="translate(650 0)">
<g clip-path="url(#cp)">
<path d="M30.1 17.7L28.1 47.6L26.1 77.6L24.2 107.7L22.4 137.9L20.5 168.2L18.7 198.9L16.9 229.7L15.2 260.5L13.5 291.4L11.9 322.4L10.3 353.2L8.9 384.1L7.4 415L6.1 445.9L4.7 476.9L3.5 508.1L2.2 539.4L1 570.6L-0.1 601.9L-1.1 633.1M148 17.7L146.8 47.6L145.6 77.6L144.5 107.7L143.4 137.9L142.3 168.2L141.2 198.9L140.1 229.7L139.1 260.5L138.1 291.4L137.1 322.4L136.2 353.2L135.3 384.1L134.4 415L133.6 445.9L132.8 476.9L132 508.1L131.3 539.4L130.6 570.6L129.9 601.9L129.3 633.1M265.9 17.7L265.5 47.6L265.1 77.6L264.8 107.7L264.4 137.9L264 168.2L263.7 198.9L263.3 229.7L263 260.5L262.6 291.4L262.3 322.4L262 353.2L261.7 384.1L261.4 415L261.1 445.9L260.9 476.9L260.6 508.1L260.4 539.4L260.1 570.6L259.9 601.9L259.7 633.1M383.9 17.7L384.3 47.6L384.7 77.6L385 107.7L385.4 137.9L385.8 168.2L386.1 198.9L386.5 229.7L386.8 260.5L387.2 291.4L387.5 322.4L387.8 353.2L388.1 384.1L388.4 415L388.7 445.9L388.9 476.9L389.2 508.1L389.4 539.4L389.7 570.6L389.9 601.9L390.1 633.1M501.8 17.7L503 47.6L504.2 77.6L505.3 107.7L506.4 137.9L507.5 168.2L508.6 198.9L509.7 229.7L510.7 260.5L511.7 291.4L512.7 322.4L513.6 353.2L514.5 384.1L515.4 415L516.2 445.9L517 476.9L517.8 508.1L518.5 539.4L519.2 570.6L519.9 601.9L520.5 633.1M619.7 17.7L621.7 47.6L623.7 77.6L625.6 107.7L627.4 137.9L629.3 168.2L631.1 198.9L632.9 229.7L634.6 260.5L636.3 291.4L637.9 322.4L639.5 353.2L640.9 384.1L642.4 415L643.7 445.9L645.1 476.9L646.3 508.1L647.6 539.4L648.8 570.6L649.9 601.9L650.9 633.1" fill="none" stroke="#0a64ff" stroke-width="1.3" stroke-dasharray="2.5 5.95"/><path d="M30.1 17.7H619.7M20.5 168.2H629.3M11.9 322.4H637.9M4.7 476.9H645.1M-1.1 633.1H650.9" fill="none" stroke="#0a64ff" stroke-width="1.3" stroke-dasharray="3.2 5.25"/>
<path d="M421.5 11.5L413.9 16.9L403.1 20.8L388.5 27.4L393.5 33.5L385.4 37.2L375.4 37.2L356.9 36.9L354.3 27.7L340.8 27.4L340.3 33.1L346.1 40.8L348.5 49.2L349.2 57.7L336.9 60.3L327.7 58.1L320 61.1L312 53.5L300.8 53.2L293.1 56.1L280 58.5L271.2 61.9L276.1 67.7L281.5 68.5L276.6 70.5L281.9 73.8L275.4 77.7L283.1 84.3L287.7 81.8L297.7 84.3L307.7 85.1L310 93.1L316.1 89.2L323.9 92.3L326.1 98.5L339.2 100.8L331.5 103.8L333.1 110L338.5 117.7L346.1 123.8L353.1 126.9L358.1 128.2L360 136.9L360.5 145.4L357.2 147.7L366.9 153.8L369.2 158.5L372 166.9L370.5 167.7L364.3 156.6L358.1 154.6L357.2 161.5L356.1 169.2L357.4 174.6L355.4 184.6L353.1 200L351.5 206.2L349.2 213.1L343.1 216.9L336.1 219.2L330 219.7L326.9 219.2L316.9 215.7L306.9 217.7L300 214.6L293.9 214.6L283.1 216.9L278.5 216.9L267.7 216.2L256.9 213.1L245 211.5L214.2 212.7L211.9 211.9L203.5 207.3L198.8 206.5L191.9 206.5L186.5 209.2L182.7 212.7L182.3 215.4L180.8 218.5L175.8 219.2L169.6 219.6L164.2 222.7L159.6 226.2L157.9 227.7L160 230.8L163.5 233.1L167.3 235L166.9 236.9L164.6 243.8L170.4 240L167.3 245L165.4 246.5L168.1 248.8L171.9 250.4L173.5 250L171.5 252.7L168.5 255.8L166.5 257.7L166.9 260L168.1 262.3L168.8 270.8L169.6 282.3L170.4 290L171.5 290.8L171.5 300L168.5 307.7L165.4 318.5L163.1 326.1L157.7 336.9L153.1 344.6L150.5 350.8L150 362.8L150 362.3L160.8 356.9L164.6 353.1L163.1 359.2L155.4 366.6L163.1 369.2L168.9 371.2L163.8 370L164.6 376.1L166.9 392.3L164.6 399.2L162.3 406.9L162.3 414.3L173.1 412.8L186.2 414.3L188 415.9L187.7 413.9L199.2 410L210 408L213.5 407.2L221.5 414.8L227.5 417.7L225 422.3L230.7 430.1L231.5 436.3L240.4 443.6L248.7 441.4L254.9 434.7L266.1 430.8L276.1 423.9L287.7 422.6L300 423.1L316.1 424.1L326.9 420.8L336.9 419.2L343.1 406.9L350 400.5L367.7 394.6L370.8 386.1L374.6 374.6L383.9 367.7L392.8 361.5L383.9 352.3L379.5 341.5L383.1 330L383.9 329.2L391.5 319.2L400.8 307.7L408.8 299.2L410 293.1L423.9 287.7L436.1 283.9L448.5 276.1L459.2 269.2L466.1 263.9L465.4 246.9L463.1 236.9L462.6 229.2L466.1 223.8L474.6 218.5L486.1 211.8L493.1 216.2L503.1 218.2L508.5 214.6L510.8 216.9L520.8 222.3L521.5 222.3L531.5 225.8L541.5 225.8L549.5 223.1L553.1 217.7L561.5 210L572.3 205.4L583.9 201.5L591.5 193.1L601.5 186.5L610.8 188.5L621.5 194.6L630.8 197.7L636.1 204.6L639.2 210M332.3 41.2L336.1 40.3L335.7 42.5L332.3 41.2M322.3 34.1L324.6 32.3M332.6 25.5L333.4 26.1M300.9 87.7L301.9 88.6M307.2 96.2L309.5 98.9M327.4 116.6L328.1 117.4M348.5 131.1L353.1 132.6L350 132L348.5 131.1M352.8 137.4L355.4 143.1L354.1 138.5L352.8 137.4M263.9 63.1L265.4 65.4M265.4 12L260 16.9L249.5 15.1L255.4 11.1M446.1 335.4L450.8 338.5L454.6 336.1L456.9 340L460.8 343.1L467.7 342.3L471.5 336.9L474.3 332.3L467.7 327.7L466.1 323.9L457.7 327.4L450.8 331.5L446.1 335.4M465.1 325.4L466.6 324.3L467.2 326.1L465.4 326.5L465.1 325.4M418.5 355.1L420.8 351.5L426.1 349.2L428.5 351.5L425.4 356.9L421.5 358.1L418.5 355.1M423.1 361.5L426.1 363.4L424.6 360.9L423.1 361.5M492.8 321.5L494.9 324M618.5 229.5L620 236.9L621.5 247.7L622.8 253.8L620 263.1L618.5 273.9L614.6 279.7L609.2 276.1L605.9 271.5L604.6 263.9L601.5 256.9L599.2 250.8L601.5 245.4L606.1 241.5L616.1 239.2L616.9 233.1L618.5 229.5M616.9 284.3L623.1 287.7L626.9 294.6L630.8 303.1L631.5 309.2L630 318.5L629.2 327.7L628.9 338.5L628.5 344.6L623.1 348.5L614.6 346.9L612.3 355.4L605.4 356.9L601.2 353.1L598.5 346.1L598.5 336.9L600.8 326.9L596.9 319.2L596.1 312.3L592.3 304.6L591.5 295.4L598.5 297.7L606.1 292.3L612.3 287.7L616.9 284.3M538 228.9L538.9 229.5M544.1 228.9L545.1 229.5M594.1 288.6L595.1 289.2M628 228.2L628.9 228.8M628.5 294.3L629.4 294.9M621.1 283.5L622 284.1M596.1 348.1L597.1 348.8M634.6 242L635.5 242.6M634.6 237.4L638.8 236.5M131.5 640L136.6 630.8L135.1 615.4L134.6 593.9L140 576.9L149.2 563.9L155.4 546.1L166.9 533.5L180 525.4L198.5 516.1L213.5 506.9L223.1 490L227.7 480L232.3 467.7L237.7 452.3L252.3 449.5L255.4 455.4L259.2 463.9L276.9 472L293.1 468.1L311.5 467.4L317.4 472.6M344.6 472.3L357.7 460.5L373.1 454.3L386.9 452L399.2 440L400 438.9L416.9 430.8L434.6 428.5L453.1 427.7L468.5 423.1L485.4 418L505.4 418.5L523.1 426.1L540 420L553.9 413.9L570 417.4L578.1 413.9L592.3 419.2L606.9 416.9L622.3 407.7L639.2 407.2" fill="none" stroke="#050505" stroke-width="1.1" stroke-linejoin="round"/><path d="M131.5 640L136.6 630.8L135.1 615.4L134.6 593.9L140 576.9L149.2 563.9L155.4 546.1L166.9 533.5L180 525.4L198.5 516.1L213.5 506.9L223.1 490L227.7 480L232.3 467.7L237.7 452.3L252.3 449.5L255.4 455.4L259.2 463.9L276.9 472L293.1 468.1L311.5 467.4L317.4 472.6M344.6 472.3L357.7 460.5L373.1 454.3L386.9 452L399.2 440L400 438.9L416.9 430.8L434.6 428.5L453.1 427.7L468.5 423.1L485.4 418L505.4 418.5L523.1 426.1L540 420L553.9 413.9L570 417.4L578.1 413.9L592.3 419.2L606.9 416.9L622.3 407.7L639.2 407.2" fill="none" stroke="#050505" stroke-width="1.25" stroke-linejoin="round"/>
<path fill="#ffc891" d="M177.93 198.89L263.66 198.89L263.49 214.97L177.50 214.97Z"/>
<path fill="#ffc891" d="M288.16 198.89L300.41 198.89L300.33 214.97L288.05 214.97Z"/>
<path fill="#ffc891" d="M152.94 214.27L190.49 214.27L190.10 230.37L152.44 230.37Z"/>
<path fill="#ffdc96" d="M189.79 214.27L325.60 214.27L325.60 230.37L189.40 230.37Z"/>
<path fill="#ffc891" d="M324.90 214.27L337.88 214.27L337.92 230.37L324.90 230.37Z"/>
<path fill="#ffdc96" d="M337.18 214.27L349.47 214.27L349.54 230.37L337.22 230.37Z"/>
<path fill="#ffc891" d="M152.44 229.67L177.78 229.67L177.36 245.09L151.95 245.09Z"/>
<path fill="#ffdc96" d="M177.08 229.67L190.10 229.67L189.71 245.09L176.66 245.09Z"/>
<path fill="#ffdc96" d="M189.40 229.67L214.73 229.67L214.42 245.79L189.01 245.79Z"/>
<path fill="#fff285" d="M214.03 229.67L276.33 229.67L276.19 245.79L213.72 245.79Z"/>
<path fill="#ffdc96" d="M275.63 229.67L288.64 229.67L288.54 245.79L275.49 245.79Z"/>
<path fill="#fff285" d="M287.94 229.67L300.96 229.67L300.89 245.79L287.84 245.79Z"/>
<path fill="#ffdc96" d="M300.26 229.67L362.56 229.67L362.66 245.79L300.19 245.79Z"/>
<path fill="#fff285" d="M361.86 229.67L374.87 229.67L375.01 245.79L361.96 245.79Z"/>
<path fill="#b5d6e8" d="M374.17 229.67L399.51 229.67L399.72 245.79L374.31 245.79Z"/>
<path fill="#fff285" d="M398.81 229.67L423.45 229.67L423.73 245.79L399.02 245.79Z"/>
<path fill="#ffdc96" d="M189.01 245.09L202.07 245.09L201.72 260.52L188.63 260.52Z"/>
<path fill="#fff285" d="M201.37 245.09L226.77 245.09L226.50 260.52L201.02 260.52Z"/>
<path fill="#fff285" d="M226.07 245.09L239.13 245.09L238.89 261.22L225.80 261.22Z"/>
<path fill="#ffdc96" d="M238.43 245.09L300.89 245.09L300.82 261.22L238.19 261.22Z"/>
<path fill="#fff285" d="M300.19 245.09L325.60 245.09L325.60 261.22L300.12 261.22Z"/>
<path fill="#ffdc96" d="M324.90 245.09L337.95 245.09L337.99 261.22L324.90 261.22Z"/>
<path fill="#ffc891" d="M337.25 245.09L362.66 245.09L362.76 261.22L337.29 261.22Z"/>
<path fill="#ffdc96" d="M361.96 245.09L412.07 245.09L412.31 261.22L362.06 261.22Z"/>
<path fill="#fff285" d="M411.37 245.09L449.13 245.09L449.48 261.22L411.61 261.22Z"/>
<path fill="#ffc891" d="M448.43 245.09L473.14 245.09L473.55 261.22L448.78 261.22Z"/>
<path fill="#ffdc96" d="M225.80 260.52L325.60 260.52L325.60 276.67L225.53 276.67Z"/>
<path fill="#fff285" d="M324.90 260.52L337.99 260.52L338.02 276.67L324.90 276.67Z"/>
<path fill="#ffdc96" d="M337.29 260.52L350.38 260.52L350.44 276.67L337.32 276.67Z"/>
<path fill="#ffc891" d="M349.68 260.52L449.48 260.52L449.82 276.67L349.74 276.67Z"/>
<path fill="#ffc891" d="M448.78 260.52L473.55 260.52L473.96 275.97L449.12 275.97Z"/>
<path fill="#ffdc96" d="M225.53 275.97L300.76 275.97L300.69 292.13L225.26 292.13Z"/>
<path fill="#fff285" d="M300.06 275.97L313.18 275.97L313.14 292.13L299.99 292.13Z"/>
<path fill="#ffdc96" d="M312.48 275.97L325.60 275.97L325.60 292.13L312.44 292.13Z"/>
<path fill="#fff285" d="M324.90 275.97L350.44 275.97L350.51 292.13L324.90 292.13Z"/>
<path fill="#ffdc96" d="M349.74 275.97L375.29 275.97L375.42 292.13L349.81 292.13Z"/>
<path fill="#ffc891" d="M374.59 275.97L412.55 275.97L412.79 292.13L374.72 292.13Z"/>
<path fill="#ffc891" d="M411.85 275.97L437.40 275.97L437.70 291.43L412.09 291.43Z"/>
<path fill="#ffb264" d="M436.70 275.97L449.12 275.97L449.45 291.43L437.00 291.43Z"/>
<path fill="#ffdc96" d="M225.26 291.43L325.60 291.43L325.60 307.61L225.00 307.61Z"/>
<path fill="#fff285" d="M324.90 291.43L375.42 291.43L375.55 307.61L324.90 307.61Z"/>
<path fill="#ffdc96" d="M374.72 291.43L387.88 291.43L388.04 307.61L374.85 307.61Z"/>
<path fill="#ffc891" d="M387.18 291.43L400.33 291.43L400.53 307.61L387.34 307.61Z"/>
<path fill="#ffb264" d="M399.63 291.43L412.09 291.43L412.32 306.91L399.83 306.91Z"/>
<path fill="#ffdc96" d="M225.00 306.91L275.65 306.91L275.52 323.10L224.74 323.10Z"/>
<path fill="#ffc891" d="M274.95 306.91L313.11 306.91L313.08 323.10L274.82 323.10Z"/>
<path fill="#ffdc96" d="M312.41 306.91L338.09 306.91L338.12 323.10L312.38 323.10Z"/>
<path fill="#fff285" d="M337.39 306.91L375.55 306.91L375.68 323.10L337.42 323.10Z"/>
<path fill="#ffdc96" d="M374.85 306.91L388.04 306.91L388.20 323.10L374.98 323.10Z"/>
<path fill="#ffb264" d="M387.34 306.91L399.83 306.91L400.02 322.40L387.50 322.40Z"/>
<path fill="#ffb264" d="M474.75 306.91L499.73 306.91L500.18 323.10L475.14 323.10Z"/>
<path fill="#ffc891" d="M212.22 322.40L313.08 322.40L313.05 338.50L211.94 338.50Z"/>
<path fill="#ffdc96" d="M312.38 322.40L363.16 322.40L363.25 338.50L312.35 338.50Z"/>
<path fill="#ffc891" d="M362.46 322.40L375.68 322.40L375.81 338.50L362.55 338.50Z"/>
<path fill="#ffb264" d="M374.98 322.40L387.50 322.40L387.66 338.50L375.11 338.50Z"/>
<path fill="#ffb264" d="M437.58 322.40L450.80 322.40L451.11 337.80L437.86 337.80Z"/>
<path fill="#ffc891" d="M450.10 322.40L463.32 322.40L463.67 338.50L450.41 338.50Z"/>
<path fill="#ffb264" d="M462.62 322.40L475.84 322.40L476.22 338.50L462.97 338.50Z"/>
<path fill="#ffb264" d="M475.14 322.40L500.18 322.40L500.62 337.80L475.52 337.80Z"/>
<path fill="#ffc891" d="M211.94 337.80L275.39 337.80L275.27 353.92L211.66 353.92Z"/>
<path fill="#ffdc96" d="M274.69 337.80L300.50 337.80L300.44 353.92L274.57 353.92Z"/>
<path fill="#ffc891" d="M299.80 337.80L313.05 337.80L313.02 353.92L299.74 353.92Z"/>
<path fill="#ffdc96" d="M312.35 337.80L363.25 337.80L363.35 353.92L312.32 353.92Z"/>
<path fill="#ffc891" d="M362.55 337.80L375.81 337.80L375.93 353.92L362.65 353.92Z"/>
<path fill="#ffb264" d="M375.11 337.80L387.66 337.80L387.81 353.92L375.23 353.92Z"/>
<path fill="#ffb264" d="M412.76 337.80L426.01 337.80L426.26 353.92L412.98 353.92Z"/>
<path fill="#ffb264" d="M425.31 337.80L437.86 337.80L438.14 353.22L425.56 353.22Z"/>
<path fill="#ffb264" d="M450.41 337.80L475.52 337.80L475.89 353.22L450.72 353.22Z"/>
<path fill="#ffc891" d="M211.66 353.22L287.85 353.22L287.76 369.34L211.39 369.34Z"/>
<path fill="#ffdc96" d="M287.15 353.22L363.35 353.22L363.44 369.34L287.06 369.34Z"/>
<path fill="#ffc891" d="M362.65 353.22L388.51 353.22L388.66 369.34L362.74 369.34Z"/>
<path fill="#ffb264" d="M387.81 353.22L400.39 353.22L400.57 368.64L387.96 368.64Z"/>
<path fill="#ffb264" d="M412.98 353.22L425.56 353.22L425.80 368.64L413.19 368.64Z"/>
<path fill="#ffc891" d="M211.39 368.64L312.99 368.64L312.96 384.78L211.12 384.78Z"/>
<path fill="#ffdc96" d="M312.29 368.64L338.21 368.64L338.24 384.78L312.26 384.78Z"/>
<path fill="#ffc891" d="M337.51 368.64L363.44 368.64L363.53 384.78L337.54 384.78Z"/>
<path fill="#ffb264" d="M362.74 368.64L376.05 368.64L376.17 384.78L362.83 384.78Z"/>
<path fill="#ffb264" d="M375.35 368.64L387.96 368.64L388.11 384.08L375.47 384.08Z"/>
<path fill="#ffb264" d="M211.12 384.08L224.47 384.08L224.24 400.23L210.87 400.23Z"/>
<path fill="#ffc891" d="M223.77 384.08L312.96 384.08L312.93 400.23L223.54 400.23Z"/>
<path fill="#ffdc96" d="M312.26 384.08L338.24 384.08L338.27 400.23L312.23 400.23Z"/>
<path fill="#ffc891" d="M337.54 384.08L350.88 384.08L350.94 400.23L337.57 400.23Z"/>
<path fill="#ffc891" d="M350.18 384.08L363.53 384.08L363.61 399.53L350.24 399.53Z"/>
<path fill="#ffb264" d="M362.83 384.08L375.47 384.08L375.58 399.53L362.91 399.53Z"/>
<path fill="#ffb264" d="M210.87 399.53L224.24 399.53L224.01 414.98L210.61 414.98Z"/>
<path fill="#ffb264" d="M223.54 399.53L262.25 399.53L262.11 415.68L223.31 415.68Z"/>
<path fill="#ffc891" d="M261.55 399.53L300.26 399.53L300.20 415.68L261.41 415.68Z"/>
<path fill="#ffdc96" d="M299.56 399.53L325.60 399.53L325.60 415.68L299.50 415.68Z"/>
<path fill="#ffc891" d="M324.90 399.53L338.27 399.53L338.30 415.68L324.90 415.68Z"/>
<path fill="#ffb264" d="M337.57 399.53L350.24 399.53L350.30 415.68L337.60 415.68Z"/>
<path fill="#ffb264" d="M223.31 414.98L249.41 414.98L249.24 431.14L223.09 431.14Z"/>
<path fill="#ffc891" d="M248.71 414.98L262.11 414.98L261.97 430.44L248.54 430.44Z"/>
<path fill="#ffb264" d="M261.41 414.98L287.50 414.98L287.42 430.44L261.27 430.44Z"/>
<path fill="#ffc891" d="M286.80 414.98L312.90 414.98L312.87 430.44L286.72 430.44Z"/>
<path fill="#ffb264" d="M312.20 414.98L363.00 414.98L363.08 430.44L312.17 430.44Z"/>
<path fill="#ffb264" d="M223.09 430.44L248.54 430.44L248.38 445.91L222.87 445.91Z"/>
<path fill="#fff" d="M422.6 241.5L424 240.2L426.8 239.9L430 241.1L430.5 243.4L428.6 245.2L425.8 246.4L423.1 246.2L422.4 243.8L422.6 241.5Z"/>
<path d="M317.4 472.6L344.6 472.3M170 260.8L173.1 258.5L180.8 256.6L184.6 256.1L186.2 259.2L183.1 260.8L184.6 264.6L189.2 263.1L193.1 264.3L197.7 263.9L199.2 265.4L203.1 264.6L207.7 265.4L209.2 261.5L213.8 262.3L217.7 260.8L223.8 261.5L225.4 270.8L229.2 270L233.1 273.9L228.5 280L225.4 283.1L220 284.6L218.5 290L214.6 290.8L216.9 296.9L216.2 303.1L218.5 307.7L217.7 311.5L213.8 313.9L211.5 316.9L215.4 319.2L215.1 323.1L213.8 327.7L212.3 332.3L198.5 333.1L198.5 333.1L203.1 337.7L203.8 342.3L206.9 348.5L211.5 350L210.8 356.1L206.2 359.2L203.4 365.4L203.1 370L208.5 377.7L211.5 379.2L207.7 383.9L203.1 385.4L199.2 393.1L197.7 397.7L199.2 402.3L200 409.2M343.1 216.9L346.9 220.8L352.3 220.8L353.1 226.2L350.8 226.9L354.6 228.5L360.8 230L368.5 230.8L373.1 235.4L379.2 234.6L385.4 238.5L391.5 237.7L397.7 239.2L403.9 238.5L404.6 234.6L410 235.4L416.1 238.5L415.9 238.3L420.3 238.5L422.6 241.5L422.4 243.8L423.1 246.2L425.8 246.4L428.6 245.2L431.4 245.2L435.1 246.2L436.5 244.8L435.8 247.5L436.9 249.4L439.2 248.2L442.9 247.5L446.1 248.5L448.4 249.8L452.1 250.1L453.5 248.5L455.4 247.8L460 245.9L465.4 246.9M422.6 241.5L424 240.2L426.8 239.9L430 241.1L430.5 243.4L428.6 245.2L425.8 246.4L423.1 246.2L422.4 243.8L422.6 241.5M480.8 12L482.3 16.1L486.1 19.2L492.3 18.5L494.6 13.8L497.7 13.1L498.1 17.7L499.2 23.9L504.6 25.4L509.2 29.2L513.9 32.3L520 30.8L523.9 33.1L528.5 33.9L533.1 32.3L537.7 34.6L541.5 39.2L545.4 42.3L550 41.5L554.6 43.9L559.2 42.3L563.9 45.4L570.8 46.1L578.5 48.5L575.4 54.6L570.8 59.2L568.5 66.2L566.9 73.1L564.6 78.5L565.4 85.4L564.9 90.8M525.4 12L520 18.5L520.8 23.1L523.1 27.7L523.9 33.1M528.5 13.1L530 18.5L536.9 23.9L536.1 28.5L533.1 32.3M564.9 90.8L570.8 91.1L578.5 89.2L585.4 90L586.1 85.4L590 83.8L593.9 85.4L590.8 88.5L595.4 87.4L603.1 87.7L609.2 90L614.6 92L617.7 92M564.9 90.8L559.2 93.1L554.6 93.8L550 96.2L552.3 98.5L547.7 103.8L540.8 109.2L539.2 114.6L533.9 119.2L531.5 125.4L529.2 132.3L533.1 133.1L536.9 130L535.4 127.7L540 124.9L546.1 124.3L549.2 126.9L550 132.3L553.9 137.7L555.4 140.8M555.4 140.8L563.1 139.2L570.8 137.7L575.4 140L580.8 133.8L582.3 128.5L587.7 124.6L589.2 130L593.9 133.8L599.2 136.9L601.5 143.1L604.6 141.5L603.9 136.9L607.7 130.8L609.2 123.1L613.1 123.1L615.4 128.5L620.8 127.7L626.1 126.2L628.5 130.8L630.8 130L629.2 124.6L631.5 119.2L637.7 121.5L640 121.5M635.4 118.5L636.1 113.1L638.5 110M555.4 140.8L550 144.6L552.3 148.5L554.6 151.5L558.5 155.4L557.7 160L553.1 162.3L547.7 165.4L548.5 169.2L553.9 171.5L557.7 176.9L554.6 180L553.1 186.2L556.9 190.8L563.1 193.8L570.8 193.1L573.9 196.2L572.6 200L573.1 198.5L570.8 203.8L569.2 205.4M332.3 475.4L336.9 479.2L344.3 484.6L342.3 489.2L345.4 493.1L343.4 496.1L346.1 504.6L344.6 515.4L347.4 520L346.9 530.8L351.1 537.7L350 541.5L354.6 548.5L363.5 554.6L357.7 560L356.9 565.4L359.2 566.5L357.7 567.7L341.5 566.9L327.7 565.9L314.6 568L313.1 574.6L299.2 580.3L292.3 579.7L290 583.1L292.3 589.2L290.8 595.4L296.1 600L295.4 603.1L285.4 604.9L280 610L275.4 612.3L261.5 618.5L255.4 628.5L243.8 636.6M606.9 417.7L608.5 420L603.1 421.5L602.3 426.1L596.9 429.2L601.5 431.5L600 439.2L599.2 450L601.5 457.7L600.8 465.4L604.3 469.2L601.5 476.1L601.2 486.9L596.9 491.5L590 495.4L588.5 500.8L583.1 503.1L581.5 510L583.9 517.7L587.7 525.4L588.9 531.5L597.7 535.9L603.9 543.9L605.4 553.1L615.4 560.8L624.6 567.7L624.6 566.9L638.5 621.5" fill="none" stroke="#a2a2a2" stroke-width="1.25" stroke-linejoin="round"/>
<path d="M421.5 11.5L413.9 16.9L403.1 20.8L388.5 27.4L393.5 33.5L385.4 37.2L375.4 37.2L356.9 36.9L354.3 27.7L340.8 27.4L340.3 33.1L346.1 40.8L348.5 49.2L349.2 57.7L336.9 60.3L327.7 58.1L320 61.1L312 53.5L300.8 53.2L293.1 56.1L280 58.5L271.2 61.9L276.1 67.7L281.5 68.5L276.6 70.5L281.9 73.8L275.4 77.7L283.1 84.3L287.7 81.8L297.7 84.3L307.7 85.1L310 93.1L316.1 89.2L323.9 92.3L326.1 98.5L339.2 100.8L331.5 103.8L333.1 110L338.5 117.7L346.1 123.8L353.1 126.9L358.1 128.2L360 136.9L360.5 145.4L357.2 147.7L366.9 153.8L369.2 158.5L372 166.9L370.5 167.7L364.3 156.6L358.1 154.6L357.2 161.5L356.1 169.2L357.4 174.6L355.4 184.6L353.1 200L351.5 206.2L349.2 213.1L343.1 216.9L336.1 219.2L330 219.7L326.9 219.2L316.9 215.7L306.9 217.7L300 214.6L293.9 214.6L283.1 216.9L278.5 216.9L267.7 216.2L256.9 213.1L245 211.5L214.2 212.7L211.9 211.9L203.5 207.3L198.8 206.5L191.9 206.5L186.5 209.2L182.7 212.7L182.3 215.4L180.8 218.5L175.8 219.2L169.6 219.6L164.2 222.7L159.6 226.2L157.9 227.7L160 230.8L163.5 233.1L167.3 235L166.9 236.9L164.6 243.8L170.4 240L167.3 245L165.4 246.5L168.1 248.8L171.9 250.4L173.5 250L171.5 252.7L168.5 255.8L166.5 257.7L166.9 260L168.1 262.3L168.8 270.8L169.6 282.3L170.4 290L171.5 290.8L171.5 300L168.5 307.7L165.4 318.5L163.1 326.1L157.7 336.9L153.1 344.6L150.5 350.8L150 362.8L150 362.3L160.8 356.9L164.6 353.1L163.1 359.2L155.4 366.6L163.1 369.2L168.9 371.2L163.8 370L164.6 376.1L166.9 392.3L164.6 399.2L162.3 406.9L162.3 414.3L173.1 412.8L186.2 414.3L188 415.9L187.7 413.9L199.2 410L210 408L213.5 407.2L221.5 414.8L227.5 417.7L225 422.3L230.7 430.1L231.5 436.3L240.4 443.6L248.7 441.4L254.9 434.7L266.1 430.8L276.1 423.9L287.7 422.6L300 423.1L316.1 424.1L326.9 420.8L336.9 419.2L343.1 406.9L350 400.5L367.7 394.6L370.8 386.1L374.6 374.6L383.9 367.7L392.8 361.5L383.9 352.3L379.5 341.5L383.1 330L383.9 329.2L391.5 319.2L400.8 307.7L408.8 299.2L410 293.1L423.9 287.7L436.1 283.9L448.5 276.1L459.2 269.2L466.1 263.9L465.4 246.9L463.1 236.9L462.6 229.2L466.1 223.8L474.6 218.5L486.1 211.8L493.1 216.2L503.1 218.2L508.5 214.6L510.8 216.9L520.8 222.3L521.5 222.3L531.5 225.8L541.5 225.8L549.5 223.1L553.1 217.7L561.5 210L572.3 205.4L583.9 201.5L591.5 193.1L601.5 186.5L610.8 188.5L621.5 194.6L630.8 197.7L636.1 204.6L639.2 210M332.3 41.2L336.1 40.3L335.7 42.5L332.3 41.2M322.3 34.1L324.6 32.3M332.6 25.5L333.4 26.1M300.9 87.7L301.9 88.6M307.2 96.2L309.5 98.9M327.4 116.6L328.1 117.4M348.5 131.1L353.1 132.6L350 132L348.5 131.1M352.8 137.4L355.4 143.1L354.1 138.5L352.8 137.4M263.9 63.1L265.4 65.4M265.4 12L260 16.9L249.5 15.1L255.4 11.1M446.1 335.4L450.8 338.5L454.6 336.1L456.9 340L460.8 343.1L467.7 342.3L471.5 336.9L474.3 332.3L467.7 327.7L466.1 323.9L457.7 327.4L450.8 331.5L446.1 335.4M465.1 325.4L466.6 324.3L467.2 326.1L465.4 326.5L465.1 325.4M418.5 355.1L420.8 351.5L426.1 349.2L428.5 351.5L425.4 356.9L421.5 358.1L418.5 355.1M423.1 361.5L426.1 363.4L424.6 360.9L423.1 361.5M492.8 321.5L494.9 324M618.5 229.5L620 236.9L621.5 247.7L622.8 253.8L620 263.1L618.5 273.9L614.6 279.7L609.2 276.1L605.9 271.5L604.6 263.9L601.5 256.9L599.2 250.8L601.5 245.4L606.1 241.5L616.1 239.2L616.9 233.1L618.5 229.5M616.9 284.3L623.1 287.7L626.9 294.6L630.8 303.1L631.5 309.2L630 318.5L629.2 327.7L628.9 338.5L628.5 344.6L623.1 348.5L614.6 346.9L612.3 355.4L605.4 356.9L601.2 353.1L598.5 346.1L598.5 336.9L600.8 326.9L596.9 319.2L596.1 312.3L592.3 304.6L591.5 295.4L598.5 297.7L606.1 292.3L612.3 287.7L616.9 284.3M538 228.9L538.9 229.5M544.1 228.9L545.1 229.5M594.1 288.6L595.1 289.2M628 228.2L628.9 228.8M628.5 294.3L629.4 294.9M621.1 283.5L622 284.1M596.1 348.1L597.1 348.8M634.6 242L635.5 242.6M634.6 237.4L638.8 236.5M131.5 640L136.6 630.8L135.1 615.4L134.6 593.9L140 576.9L149.2 563.9L155.4 546.1L166.9 533.5L180 525.4L198.5 516.1L213.5 506.9L223.1 490L227.7 480L232.3 467.7L237.7 452.3L252.3 449.5L255.4 455.4L259.2 463.9L276.9 472L293.1 468.1L311.5 467.4L317.4 472.6M344.6 472.3L357.7 460.5L373.1 454.3L386.9 452L399.2 440L400 438.9L416.9 430.8L434.6 428.5L453.1 427.7L468.5 423.1L485.4 418L505.4 418.5L523.1 426.1L540 420L553.9 413.9L570 417.4L578.1 413.9L592.3 419.2L606.9 416.9L622.3 407.7L639.2 407.2" fill="none" stroke="#2b1d05" stroke-opacity="0.9" stroke-width="0.95" stroke-linejoin="round"/>
</g>
<path fill="#0a64ff" fill-rule="evenodd" d="M5.0 4.9H644.9V645.9H5.0ZM11.6 11.9V639.0H637.6V11.9Z"/>
<rect fill="#fff" x="6" y="6.2" width="24.8" height="4.7"/>
<rect fill="#fff" x="149" y="6.2" width="117" height="4.7"/>
<rect fill="#fff" x="383.7" y="6.2" width="117" height="4.7"/>
<rect fill="#fff" x="638.5" y="6.2" width="5.6" height="4.7"/>
<rect fill="#fff" x="6" y="639.8" width="122.4" height="5.2"/>
<rect fill="#fff" x="260.1" y="639.8" width="130" height="5.2"/>
<rect fill="#fff" x="638.1" y="639.8" width="5.5" height="5.2"/>
<rect fill="#fff" x="6" y="168.5" width="4.1" height="153.8"/>
<rect fill="#fff" x="6" y="477.1" width="4.1" height="167.9"/>
<rect fill="#fff" x="639" y="168.5" width="4.6" height="153.8"/>
<rect fill="#fff" x="639" y="477.1" width="4.6" height="167.9"/>
<text x="33.3" y="617.2" font-size="25.6">Spain MAM</text>
</g>
<g transform="translate(0 651)">
<g clip-path="url(#cp)">
<path d="M30.1 17.7L28.1 47.6L26.1 77.6L24.2 107.7L22.4 137.9L20.5 168.2L18.7 198.9L16.9 229.7L15.2 260.5L13.5 291.4L11.9 322.4L10.3 353.2L8.9 384.1L7.4 415L6.1 445.9L4.7 476.9L3.5 508.1L2.2 539.4L1 570.6L-0.1 601.9L-1.1 633.1M148 17.7L146.8 47.6L145.6 77.6L144.5 107.7L143.4 137.9L142.3 168.2L141.2 198.9L140.1 229.7L139.1 260.5L138.1 291.4L137.1 322.4L136.2 353.2L135.3 384.1L134.4 415L133.6 445.9L132.8 476.9L132 508.1L131.3 539.4L130.6 570.6L129.9 601.9L129.3 633.1M265.9 17.7L265.5 47.6L265.1 77.6L264.8 107.7L264.4 137.9L264 168.2L263.7 198.9L263.3 229.7L263 260.5L262.6 291.4L262.3 322.4L262 353.2L261.7 384.1L261.4 415L261.1 445.9L260.9 476.9L260.6 508.1L260.4 539.4L260.1 570.6L259.9 601.9L259.7 633.1M383.9 17.7L384.3 47.6L384.7 77.6L385 107.7L385.4 137.9L385.8 168.2L386.1 198.9L386.5 229.7L386.8 260.5L387.2 291.4L387.5 322.4L387.8 353.2L388.1 384.1L388.4 415L388.7 445.9L388.9 476.9L389.2 508.1L389.4 539.4L389.7 570.6L389.9 601.9L390.1 633.1M501.8 17.7L503 47.6L504.2 77.6L505.3 107.7L506.4 137.9L507.5 168.2L508.6 198.9L509.7 229.7L510.7 260.5L511.7 291.4L512.7 322.4L513.6 353.2L514.5 384.1L515.4 415L516.2 445.9L517 476.9L517.8 508.1L518.5 539.4L519.2 570.6L519.9 601.9L520.5 633.1M619.7 17.7L621.7 47.6L623.7 77.6L625.6 107.7L627.4 137.9L629.3 168.2L631.1 198.9L632.9 229.7L634.6 260.5L636.3 291.4L637.9 322.4L639.5 353.2L640.9 384.1L642.4 415L643.7 445.9L645.1 476.9L646.3 508.1L647.6 539.4L648.8 570.6L649.9 601.9L650.9 633.1" fill="none" stroke="#0a64ff" stroke-width="1.3" stroke-dasharray="2.5 5.95"/><path d="M30.1 17.7H619.7M20.5 168.2H629.3M11.9 322.4H637.9M4.7 476.9H645.1M-1.1 633.1H650.9" fill="none" stroke="#0a64ff" stroke-width="1.3" stroke-dasharray="3.2 5.25"/>
<path d="M421.5 11.5L413.9 16.9L403.1 20.8L388.5 27.4L393.5 33.5L385.4 37.2L375.4 37.2L356.9 36.9L354.3 27.7L340.8 27.4L340.3 33.1L346.1 40.8L348.5 49.2L349.2 57.7L336.9 60.3L327.7 58.1L320 61.1L312 53.5L300.8 53.2L293.1 56.1L280 58.5L271.2 61.9L276.1 67.7L281.5 68.5L276.6 70.5L281.9 73.8L275.4 77.7L283.1 84.3L287.7 81.8L297.7 84.3L307.7 85.1L310 93.1L316.1 89.2L323.9 92.3L326.1 98.5L339.2 100.8L331.5 103.8L333.1 110L338.5 117.7L346.1 123.8L353.1 126.9L358.1 128.2L360 136.9L360.5 145.4L357.2 147.7L366.9 153.8L369.2 158.5L372 166.9L370.5 167.7L364.3 156.6L358.1 154.6L357.2 161.5L356.1 169.2L357.4 174.6L355.4 184.6L353.1 200L351.5 206.2L349.2 213.1L343.1 216.9L336.1 219.2L330 219.7L326.9 219.2L316.9 215.7L306.9 217.7L300 214.6L293.9 214.6L283.1 216.9L278.5 216.9L267.7 216.2L256.9 213.1L245 211.5L214.2 212.7L211.9 211.9L203.5 207.3L198.8 206.5L191.9 206.5L186.5 209.2L182.7 212.7L182.3 215.4L180.8 218.5L175.8 219.2L169.6 219.6L164.2 222.7L159.6 226.2L157.9 227.7L160 230.8L163.5 233.1L167.3 235L166.9 236.9L164.6 243.8L170.4 240L167.3 245L165.4 246.5L168.1 248.8L171.9 250.4L173.5 250L171.5 252.7L168.5 255.8L166.5 257.7L166.9 260L168.1 262.3L168.8 270.8L169.6 282.3L170.4 290L171.5 290.8L171.5 300L168.5 307.7L165.4 318.5L163.1 326.1L157.7 336.9L153.1 344.6L150.5 350.8L150 362.8L150 362.3L160.8 356.9L164.6 353.1L163.1 359.2L155.4 366.6L163.1 369.2L168.9 371.2L163.8 370L164.6 376.1L166.9 392.3L164.6 399.2L162.3 406.9L162.3 414.3L173.1 412.8L186.2 414.3L188 415.9L187.7 413.9L199.2 410L210 408L213.5 407.2L221.5 414.8L227.5 417.7L225 422.3L230.7 430.1L231.5 436.3L240.4 443.6L248.7 441.4L254.9 434.7L266.1 430.8L276.1 423.9L287.7 422.6L300 423.1L316.1 424.1L326.9 420.8L336.9 419.2L343.1 406.9L350 400.5L367.7 394.6L370.8 386.1L374.6 374.6L383.9 367.7L392.8 361.5L383.9 352.3L379.5 341.5L383.1 330L383.9 329.2L391.5 319.2L400.8 307.7L408.8 299.2L410 293.1L423.9 287.7L436.1 283.9L448.5 276.1L459.2 269.2L466.1 263.9L465.4 246.9L463.1 236.9L462.6 229.2L466.1 223.8L474.6 218.5L486.1 211.8L493.1 216.2L503.1 218.2L508.5 214.6L510.8 216.9L520.8 222.3L521.5 222.3L531.5 225.8L541.5 225.8L549.5 223.1L553.1 217.7L561.5 210L572.3 205.4L583.9 201.5L591.5 193.1L601.5 186.5L610.8 188.5L621.5 194.6L630.8 197.7L636.1 204.6L639.2 210M332.3 41.2L336.1 40.3L335.7 42.5L332.3 41.2M322.3 34.1L324.6 32.3M332.6 25.5L333.4 26.1M300.9 87.7L301.9 88.6M307.2 96.2L309.5 98.9M327.4 116.6L328.1 117.4M348.5 131.1L353.1 132.6L350 132L348.5 131.1M352.8 137.4L355.4 143.1L354.1 138.5L352.8 137.4M263.9 63.1L265.4 65.4M265.4 12L260 16.9L249.5 15.1L255.4 11.1M446.1 335.4L450.8 338.5L454.6 336.1L456.9 340L460.8 343.1L467.7 342.3L471.5 336.9L474.3 332.3L467.7 327.7L466.1 323.9L457.7 327.4L450.8 331.5L446.1 335.4M465.1 325.4L466.6 324.3L467.2 326.1L465.4 326.5L465.1 325.4M418.5 355.1L420.8 351.5L426.1 349.2L428.5 351.5L425.4 356.9L421.5 358.1L418.5 355.1M423.1 361.5L426.1 363.4L424.6 360.9L423.1 361.5M492.8 321.5L494.9 324M618.5 229.5L620 236.9L621.5 247.7L622.8 253.8L620 263.1L618.5 273.9L614.6 279.7L609.2 276.1L605.9 271.5L604.6 263.9L601.5 256.9L599.2 250.8L601.5 245.4L606.1 241.5L616.1 239.2L616.9 233.1L618.5 229.5M616.9 284.3L623.1 287.7L626.9 294.6L630.8 303.1L631.5 309.2L630 318.5L629.2 327.7L628.9 338.5L628.5 344.6L623.1 348.5L614.6 346.9L612.3 355.4L605.4 356.9L601.2 353.1L598.5 346.1L598.5 336.9L600.8 326.9L596.9 319.2L596.1 312.3L592.3 304.6L591.5 295.4L598.5 297.7L606.1 292.3L612.3 287.7L616.9 284.3M538 228.9L538.9 229.5M544.1 228.9L545.1 229.5M594.1 288.6L595.1 289.2M628 228.2L628.9 228.8M628.5 294.3L629.4 294.9M621.1 283.5L622 284.1M596.1 348.1L597.1 348.8M634.6 242L635.5 242.6M634.6 237.4L638.8 236.5M131.5 640L136.6 630.8L135.1 615.4L134.6 593.9L140 576.9L149.2 563.9L155.4 546.1L166.9 533.5L180 525.4L198.5 516.1L213.5 506.9L223.1 490L227.7 480L232.3 467.7L237.7 452.3L252.3 449.5L255.4 455.4L259.2 463.9L276.9 472L293.1 468.1L311.5 467.4L317.4 472.6M344.6 472.3L357.7 460.5L373.1 454.3L386.9 452L399.2 440L400 438.9L416.9 430.8L434.6 428.5L453.1 427.7L468.5 423.1L485.4 418L505.4 418.5L523.1 426.1L540 420L553.9 413.9L570 417.4L578.1 413.9L592.3 419.2L606.9 416.9L622.3 407.7L639.2 407.2" fill="none" stroke="#050505" stroke-width="1.1" stroke-linejoin="round"/><path d="M131.5 640L136.6 630.8L135.1 615.4L134.6 593.9L140 576.9L149.2 563.9L155.4 546.1L166.9 533.5L180 525.4L198.5 516.1L213.5 506.9L223.1 490L227.7 480L232.3 467.7L237.7 452.3L252.3 449.5L255.4 455.4L259.2 463.9L276.9 472L293.1 468.1L311.5 467.4L317.4 472.6M344.6 472.3L357.7 460.5L373.1 454.3L386.9 452L399.2 440L400 438.9L416.9 430.8L434.6 428.5L453.1 427.7L468.5 423.1L485.4 418L505.4 418.5L523.1 426.1L540 420L553.9 413.9L570 417.4L578.1 413.9L592.3 419.2L606.9 416.9L622.3 407.7L639.2 407.2" fill="none" stroke="#050505" stroke-width="1.25" stroke-linejoin="round"/>
<path fill="#ff963c" d="M177.93 198.89L263.66 198.89L263.49 214.97L177.50 214.97Z"/>
<path fill="#ff963c" d="M288.16 198.89L300.41 198.89L300.33 214.97L288.05 214.97Z"/>
<path fill="#ff963c" d="M152.94 214.27L190.49 214.27L190.10 230.37L152.44 230.37Z"/>
<path fill="#ffb264" d="M189.79 214.27L276.47 214.27L276.33 230.37L189.40 230.37Z"/>
<path fill="#ff963c" d="M275.77 214.27L349.47 214.27L349.54 230.37L275.63 230.37Z"/>
<path fill="#ff963c" d="M152.44 229.67L177.78 229.67L177.36 245.09L151.95 245.09Z"/>
<path fill="#ffb264" d="M177.08 229.67L190.10 229.67L189.71 245.09L176.66 245.09Z"/>
<path fill="#ffb264" d="M189.40 229.67L227.05 229.67L226.77 245.79L189.01 245.79Z"/>
<path fill="#ffc891" d="M226.35 229.67L239.37 229.67L239.13 245.79L226.07 245.79Z"/>
<path fill="#ffb264" d="M238.67 229.67L337.92 229.67L337.95 245.79L238.43 245.79Z"/>
<path fill="#ff963c" d="M337.22 229.67L350.24 229.67L350.31 245.79L337.25 245.79Z"/>
<path fill="#ffb264" d="M349.54 229.67L374.87 229.67L375.01 245.79L349.61 245.79Z"/>
<path fill="#ffc891" d="M374.17 229.67L411.83 229.67L412.07 245.79L374.31 245.79Z"/>
<path fill="#ffb264" d="M411.13 229.67L423.45 229.67L423.73 245.79L411.37 245.79Z"/>
<path fill="#ffb264" d="M189.01 245.09L214.42 245.09L214.11 260.52L188.63 260.52Z"/>
<path fill="#ffc891" d="M213.72 245.09L226.77 245.09L226.50 260.52L213.41 260.52Z"/>
<path fill="#ffb264" d="M226.07 245.09L239.13 245.09L238.89 261.22L225.80 261.22Z"/>
<path fill="#ff963c" d="M238.43 245.09L288.54 245.09L288.44 261.22L238.19 261.22Z"/>
<path fill="#ffb264" d="M287.84 245.09L337.95 245.09L337.99 261.22L287.74 261.22Z"/>
<path fill="#ff963c" d="M337.25 245.09L399.72 245.09L399.93 261.22L337.29 261.22Z"/>
<path fill="#ffb264" d="M399.02 245.09L449.13 245.09L449.48 261.22L399.23 261.22Z"/>
<path fill="#ff6e32" d="M448.43 245.09L473.14 245.09L473.55 261.22L448.78 261.22Z"/>
<path fill="#ff963c" d="M225.80 260.52L288.44 260.52L288.33 276.67L225.53 276.67Z"/>
<path fill="#ffb264" d="M287.74 260.52L350.38 260.52L350.44 276.67L287.63 276.67Z"/>
<path fill="#ff6e32" d="M349.68 260.52L449.48 260.52L449.82 276.67L349.74 276.67Z"/>
<path fill="#ff6e32" d="M448.78 260.52L473.55 260.52L473.96 275.97L449.12 275.97Z"/>
<path fill="#ff963c" d="M225.53 275.97L300.76 275.97L300.69 292.13L225.26 292.13Z"/>
<path fill="#ffb264" d="M300.06 275.97L362.87 275.97L362.97 292.13L299.99 292.13Z"/>
<path fill="#ff963c" d="M362.17 275.97L375.29 275.97L375.42 292.13L362.27 292.13Z"/>
<path fill="#ff6e32" d="M374.59 275.97L412.55 275.97L412.79 292.13L374.72 292.13Z"/>
<path fill="#ff6e32" d="M411.85 275.97L437.40 275.97L437.70 291.43L412.09 291.43Z"/>
<path fill="#ff482d" d="M436.70 275.97L449.12 275.97L449.45 291.43L437.00 291.43Z"/>
<path fill="#ff963c" d="M225.26 291.43L250.87 291.43L250.67 307.61L225.00 307.61Z"/>
<path fill="#ffb264" d="M250.17 291.43L263.32 291.43L263.16 307.61L249.97 307.61Z"/>
<path fill="#ff963c" d="M262.62 291.43L325.60 291.43L325.60 307.61L262.46 307.61Z"/>
<path fill="#ffb264" d="M324.90 291.43L375.42 291.43L375.55 307.61L324.90 307.61Z"/>
<path fill="#ff963c" d="M374.72 291.43L387.88 291.43L388.04 307.61L374.85 307.61Z"/>
<path fill="#ff6e32" d="M387.18 291.43L400.33 291.43L400.53 307.61L387.34 307.61Z"/>
<path fill="#ff482d" d="M399.63 291.43L412.09 291.43L412.32 306.91L399.83 306.91Z"/>
<path fill="#ff963c" d="M225.00 306.91L275.65 306.91L275.52 323.10L224.74 323.10Z"/>
<path fill="#ff6e32" d="M274.95 306.91L313.11 306.91L313.08 323.10L274.82 323.10Z"/>
<path fill="#ff963c" d="M312.41 306.91L338.09 306.91L338.12 323.10L312.38 323.10Z"/>
<path fill="#ffb264" d="M337.39 306.91L375.55 306.91L375.68 323.10L337.42 323.10Z"/>
<path fill="#ff963c" d="M374.85 306.91L388.04 306.91L388.20 323.10L374.98 323.10Z"/>
<path fill="#ff482d" d="M387.34 306.91L399.83 306.91L400.02 322.40L387.50 322.40Z"/>
<path fill="#ff482d" d="M474.75 306.91L499.73 306.91L500.18 323.10L475.14 323.10Z"/>
<path fill="#ff6e32" d="M212.22 322.40L313.08 322.40L313.05 338.50L211.94 338.50Z"/>
<path fill="#ff963c" d="M312.38 322.40L363.16 322.40L363.25 338.50L312.35 338.50Z"/>
<path fill="#ff6e32" d="M362.46 322.40L375.68 322.40L375.81 338.50L362.55 338.50Z"/>
<path fill="#ff482d" d="M374.98 322.40L387.50 322.40L387.66 338.50L375.11 338.50Z"/>
<path fill="#ff482d" d="M437.58 322.40L450.80 322.40L451.11 337.80L437.86 337.80Z"/>
<path fill="#ff6e32" d="M450.10 322.40L463.32 322.40L463.67 338.50L450.41 338.50Z"/>
<path fill="#ff482d" d="M462.62 322.40L475.84 322.40L476.22 338.50L462.97 338.50Z"/>
<path fill="#ff482d" d="M475.14 322.40L500.18 322.40L500.62 337.80L475.52 337.80Z"/>
<path fill="#ff6e32" d="M211.94 337.80L325.60 337.80L325.60 353.92L211.66 353.92Z"/>
<path fill="#ff963c" d="M324.90 337.80L363.25 337.80L363.35 353.92L324.90 353.92Z"/>
<path fill="#ff6e32" d="M362.55 337.80L375.81 337.80L375.93 353.92L362.65 353.92Z"/>
<path fill="#ff482d" d="M375.11 337.80L387.66 337.80L387.81 353.92L375.23 353.92Z"/>
<path fill="#ff482d" d="M412.76 337.80L426.01 337.80L426.26 353.92L412.98 353.92Z"/>
<path fill="#ff482d" d="M425.31 337.80L437.86 337.80L438.14 353.22L425.56 353.22Z"/>
<path fill="#ff482d" d="M450.41 337.80L475.52 337.80L475.89 353.22L450.72 353.22Z"/>
<path fill="#ff6e32" d="M211.66 353.22L313.02 353.22L312.99 369.34L211.39 369.34Z"/>
<path fill="#ff963c" d="M312.32 353.22L363.35 353.22L363.44 369.34L312.29 369.34Z"/>
<path fill="#ff6e32" d="M362.65 353.22L388.51 353.22L388.66 369.34L362.74 369.34Z"/>
<path fill="#ff482d" d="M387.81 353.22L400.39 353.22L400.57 368.64L387.96 368.64Z"/>
<path fill="#ff482d" d="M412.98 353.22L425.56 353.22L425.80 368.64L413.19 368.64Z"/>
<path fill="#ff6e32" d="M211.39 368.64L325.60 368.64L325.60 384.78L211.12 384.78Z"/>
<path fill="#ff963c" d="M324.90 368.64L338.21 368.64L338.24 384.78L324.90 384.78Z"/>
<path fill="#ff6e32" d="M337.51 368.64L363.44 368.64L363.53 384.78L337.54 384.78Z"/>
<path fill="#ff482d" d="M362.74 368.64L376.05 368.64L376.17 384.78L362.83 384.78Z"/>
<path fill="#ff482d" d="M375.35 368.64L387.96 368.64L388.11 384.08L375.47 384.08Z"/>
<path fill="#ff6e32" d="M211.12 384.08L325.60 384.08L325.60 400.23L210.87 400.23Z"/>
<path fill="#ff963c" d="M324.90 384.08L338.24 384.08L338.27 400.23L324.90 400.23Z"/>
<path fill="#ff6e32" d="M337.54 384.08L350.88 384.08L350.94 400.23L337.57 400.23Z"/>
<path fill="#ff6e32" d="M350.18 384.08L363.53 384.08L363.61 399.53L350.24 399.53Z"/>
<path fill="#ff482d" d="M362.83 384.08L375.47 384.08L375.58 399.53L362.91 399.53Z"/>
<path fill="#ff482d" d="M210.87 399.53L224.24 399.53L224.01 414.98L210.61 414.98Z"/>
<path fill="#ff6e32" d="M223.54 399.53L300.26 399.53L300.20 415.68L223.31 415.68Z"/>
<path fill="#ff963c" d="M299.56 399.53L325.60 399.53L325.60 415.68L299.50 415.68Z"/>
<path fill="#ff6e32" d="M324.90 399.53L338.27 399.53L338.30 415.68L324.90 415.68Z"/>
<path fill="#ff482d" d="M337.57 399.53L350.24 399.53L350.30 415.68L337.60 415.68Z"/>
<path fill="#ff482d" d="M223.31 414.98L236.71 414.98L236.51 431.14L223.09 431.14Z"/>
<path fill="#ff6e32" d="M236.01 414.98L249.41 414.98L249.24 431.14L235.81 431.14Z"/>
<path fill="#ff6e32" d="M248.71 414.98L325.60 414.98L325.60 430.44L248.54 430.44Z"/>
<path fill="#ff482d" d="M324.90 414.98L363.00 414.98L363.08 430.44L324.90 430.44Z"/>
<path fill="#ff6e32" d="M223.09 430.44L248.54 430.44L248.38 445.91L222.87 445.91Z"/>
<path fill="#fff" d="M422.6 241.5L424 240.2L426.8 239.9L430 241.1L430.5 243.4L428.6 245.2L425.8 246.4L423.1 246.2L422.4 243.8L422.6 241.5Z"/>
<path d="M317.4 472.6L344.6 472.3M170 260.8L173.1 258.5L180.8 256.6L184.6 256.1L186.2 259.2L183.1 260.8L184.6 264.6L189.2 263.1L193.1 264.3L197.7 263.9L199.2 265.4L203.1 264.6L207.7 265.4L209.2 261.5L213.8 262.3L217.7 260.8L223.8 261.5L225.4 270.8L229.2 270L233.1 273.9L228.5 280L225.4 283.1L220 284.6L218.5 290L214.6 290.8L216.9 296.9L216.2 303.1L218.5 307.7L217.7 311.5L213.8 313.9L211.5 316.9L215.4 319.2L215.1 323.1L213.8 327.7L212.3 332.3L198.5 333.1L198.5 333.1L203.1 337.7L203.8 342.3L206.9 348.5L211.5 350L210.8 356.1L206.2 359.2L203.4 365.4L203.1 370L208.5 377.7L211.5 379.2L207.7 383.9L203.1 385.4L199.2 393.1L197.7 397.7L199.2 402.3L200 409.2M343.1 216.9L346.9 220.8L352.3 220.8L353.1 226.2L350.8 226.9L354.6 228.5L360.8 230L368.5 230.8L373.1 235.4L379.2 234.6L385.4 238.5L391.5 237.7L397.7 239.2L403.9 238.5L404.6 234.6L410 235.4L416.1 238.5L415.9 238.3L420.3 238.5L422.6 241.5L422.4 243.8L423.1 246.2L425.8 246.4L428.6 245.2L431.4 245.2L435.1 246.2L436.5 244.8L435.8 247.5L436.9 249.4L439.2 248.2L442.9 247.5L446.1 248.5L448.4 249.8L452.1 250.1L453.5 248.5L455.4 247.8L460 245.9L465.4 246.9M422.6 241.5L424 240.2L426.8 239.9L430 241.1L430.5 243.4L428.6 245.2L425.8 246.4L423.1 246.2L422.4 243.8L422.6 241.5M480.8 12L482.3 16.1L486.1 19.2L492.3 18.5L494.6 13.8L497.7 13.1L498.1 17.7L499.2 23.9L504.6 25.4L509.2 29.2L513.9 32.3L520 30.8L523.9 33.1L528.5 33.9L533.1 32.3L537.7 34.6L541.5 39.2L545.4 42.3L550 41.5L554.6 43.9L559.2 42.3L563.9 45.4L570.8 46.1L578.5 48.5L575.4 54.6L570.8 59.2L568.5 66.2L566.9 73.1L564.6 78.5L565.4 85.4L564.9 90.8M525.4 12L520 18.5L520.8 23.1L523.1 27.7L523.9 33.1M528.5 13.1L530 18.5L536.9 23.9L536.1 28.5L533.1 32.3M564.9 90.8L570.8 91.1L578.5 89.2L585.4 90L586.1 85.4L590 83.8L593.9 85.4L590.8 88.5L595.4 87.4L603.1 87.7L609.2 90L614.6 92L617.7 92M564.9 90.8L559.2 93.1L554.6 93.8L550 96.2L552.3 98.5L547.7 103.8L540.8 109.2L539.2 114.6L533.9 119.2L531.5 125.4L529.2 132.3L533.1 133.1L536.9 130L535.4 127.7L540 124.9L546.1 124.3L549.2 126.9L550 132.3L553.9 137.7L555.4 140.8M555.4 140.8L563.1 139.2L570.8 137.7L575.4 140L580.8 133.8L582.3 128.5L587.7 124.6L589.2 130L593.9 133.8L599.2 136.9L601.5 143.1L604.6 141.5L603.9 136.9L607.7 130.8L609.2 123.1L613.1 123.1L615.4 128.5L620.8 127.7L626.1 126.2L628.5 130.8L630.8 130L629.2 124.6L631.5 119.2L637.7 121.5L640 121.5M635.4 118.5L636.1 113.1L638.5 110M555.4 140.8L550 144.6L552.3 148.5L554.6 151.5L558.5 155.4L557.7 160L553.1 162.3L547.7 165.4L548.5 169.2L553.9 171.5L557.7 176.9L554.6 180L553.1 186.2L556.9 190.8L563.1 193.8L570.8 193.1L573.9 196.2L572.6 200L573.1 198.5L570.8 203.8L569.2 205.4M332.3 475.4L336.9 479.2L344.3 484.6L342.3 489.2L345.4 493.1L343.4 496.1L346.1 504.6L344.6 515.4L347.4 520L346.9 530.8L351.1 537.7L350 541.5L354.6 548.5L363.5 554.6L357.7 560L356.9 565.4L359.2 566.5L357.7 567.7L341.5 566.9L327.7 565.9L314.6 568L313.1 574.6L299.2 580.3L292.3 579.7L290 583.1L292.3 589.2L290.8 595.4L296.1 600L295.4 603.1L285.4 604.9L280 610L275.4 612.3L261.5 618.5L255.4 628.5L243.8 636.6M606.9 417.7L608.5 420L603.1 421.5L602.3 426.1L596.9 429.2L601.5 431.5L600 439.2L599.2 450L601.5 457.7L600.8 465.4L604.3 469.2L601.5 476.1L601.2 486.9L596.9 491.5L590 495.4L588.5 500.8L583.1 503.1L581.5 510L583.9 517.7L587.7 525.4L588.9 531.5L597.7 535.9L603.9 543.9L605.4 553.1L615.4 560.8L624.6 567.7L624.6 566.9L638.5 621.5" fill="none" stroke="#a2a2a2" stroke-width="1.25" stroke-linejoin="round"/>
<path d="M421.5 11.5L413.9 16.9L403.1 20.8L388.5 27.4L393.5 33.5L385.4 37.2L375.4 37.2L356.9 36.9L354.3 27.7L340.8 27.4L340.3 33.1L346.1 40.8L348.5 49.2L349.2 57.7L336.9 60.3L327.7 58.1L320 61.1L312 53.5L300.8 53.2L293.1 56.1L280 58.5L271.2 61.9L276.1 67.7L281.5 68.5L276.6 70.5L281.9 73.8L275.4 77.7L283.1 84.3L287.7 81.8L297.7 84.3L307.7 85.1L310 93.1L316.1 89.2L323.9 92.3L326.1 98.5L339.2 100.8L331.5 103.8L333.1 110L338.5 117.7L346.1 123.8L353.1 126.9L358.1 128.2L360 136.9L360.5 145.4L357.2 147.7L366.9 153.8L369.2 158.5L372 166.9L370.5 167.7L364.3 156.6L358.1 154.6L357.2 161.5L356.1 169.2L357.4 174.6L355.4 184.6L353.1 200L351.5 206.2L349.2 213.1L343.1 216.9L336.1 219.2L330 219.7L326.9 219.2L316.9 215.7L306.9 217.7L300 214.6L293.9 214.6L283.1 216.9L278.5 216.9L267.7 216.2L256.9 213.1L245 211.5L214.2 212.7L211.9 211.9L203.5 207.3L198.8 206.5L191.9 206.5L186.5 209.2L182.7 212.7L182.3 215.4L180.8 218.5L175.8 219.2L169.6 219.6L164.2 222.7L159.6 226.2L157.9 227.7L160 230.8L163.5 233.1L167.3 235L166.9 236.9L164.6 243.8L170.4 240L167.3 245L165.4 246.5L168.1 248.8L171.9 250.4L173.5 250L171.5 252.7L168.5 255.8L166.5 257.7L166.9 260L168.1 262.3L168.8 270.8L169.6 282.3L170.4 290L171.5 290.8L171.5 300L168.5 307.7L165.4 318.5L163.1 326.1L157.7 336.9L153.1 344.6L150.5 350.8L150 362.8L150 362.3L160.8 356.9L164.6 353.1L163.1 359.2L155.4 366.6L163.1 369.2L168.9 371.2L163.8 370L164.6 376.1L166.9 392.3L164.6 399.2L162.3 406.9L162.3 414.3L173.1 412.8L186.2 414.3L188 415.9L187.7 413.9L199.2 410L210 408L213.5 407.2L221.5 414.8L227.5 417.7L225 422.3L230.7 430.1L231.5 436.3L240.4 443.6L248.7 441.4L254.9 434.7L266.1 430.8L276.1 423.9L287.7 422.6L300 423.1L316.1 424.1L326.9 420.8L336.9 419.2L343.1 406.9L350 400.5L367.7 394.6L370.8 386.1L374.6 374.6L383.9 367.7L392.8 361.5L383.9 352.3L379.5 341.5L383.1 330L383.9 329.2L391.5 319.2L400.8 307.7L408.8 299.2L410 293.1L423.9 287.7L436.1 283.9L448.5 276.1L459.2 269.2L466.1 263.9L465.4 246.9L463.1 236.9L462.6 229.2L466.1 223.8L474.6 218.5L486.1 211.8L493.1 216.2L503.1 218.2L508.5 214.6L510.8 216.9L520.8 222.3L521.5 222.3L531.5 225.8L541.5 225.8L549.5 223.1L553.1 217.7L561.5 210L572.3 205.4L583.9 201.5L591.5 193.1L601.5 186.5L610.8 188.5L621.5 194.6L630.8 197.7L636.1 204.6L639.2 210M332.3 41.2L336.1 40.3L335.7 42.5L332.3 41.2M322.3 34.1L324.6 32.3M332.6 25.5L333.4 26.1M300.9 87.7L301.9 88.6M307.2 96.2L309.5 98.9M327.4 116.6L328.1 117.4M348.5 131.1L353.1 132.6L350 132L348.5 131.1M352.8 137.4L355.4 143.1L354.1 138.5L352.8 137.4M263.9 63.1L265.4 65.4M265.4 12L260 16.9L249.5 15.1L255.4 11.1M446.1 335.4L450.8 338.5L454.6 336.1L456.9 340L460.8 343.1L467.7 342.3L471.5 336.9L474.3 332.3L467.7 327.7L466.1 323.9L457.7 327.4L450.8 331.5L446.1 335.4M465.1 325.4L466.6 324.3L467.2 326.1L465.4 326.5L465.1 325.4M418.5 355.1L420.8 351.5L426.1 349.2L428.5 351.5L425.4 356.9L421.5 358.1L418.5 355.1M423.1 361.5L426.1 363.4L424.6 360.9L423.1 361.5M492.8 321.5L494.9 324M618.5 229.5L620 236.9L621.5 247.7L622.8 253.8L620 263.1L618.5 273.9L614.6 279.7L609.2 276.1L605.9 271.5L604.6 263.9L601.5 256.9L599.2 250.8L601.5 245.4L606.1 241.5L616.1 239.2L616.9 233.1L618.5 229.5M616.9 284.3L623.1 287.7L626.9 294.6L630.8 303.1L631.5 309.2L630 318.5L629.2 327.7L628.9 338.5L628.5 344.6L623.1 348.5L614.6 346.9L612.3 355.4L605.4 356.9L601.2 353.1L598.5 346.1L598.5 336.9L600.8 326.9L596.9 319.2L596.1 312.3L592.3 304.6L591.5 295.4L598.5 297.7L606.1 292.3L612.3 287.7L616.9 284.3M538 228.9L538.9 229.5M544.1 228.9L545.1 229.5M594.1 288.6L595.1 289.2M628 228.2L628.9 228.8M628.5 294.3L629.4 294.9M621.1 283.5L622 284.1M596.1 348.1L597.1 348.8M634.6 242L635.5 242.6M634.6 237.4L638.8 236.5M131.5 640L136.6 630.8L135.1 615.4L134.6 593.9L140 576.9L149.2 563.9L155.4 546.1L166.9 533.5L180 525.4L198.5 516.1L213.5 506.9L223.1 490L227.7 480L232.3 467.7L237.7 452.3L252.3 449.5L255.4 455.4L259.2 463.9L276.9 472L293.1 468.1L311.5 467.4L317.4 472.6M344.6 472.3L357.7 460.5L373.1 454.3L386.9 452L399.2 440L400 438.9L416.9 430.8L434.6 428.5L453.1 427.7L468.5 423.1L485.4 418L505.4 418.5L523.1 426.1L540 420L553.9 413.9L570 417.4L578.1 413.9L592.3 419.2L606.9 416.9L622.3 407.7L639.2 407.2" fill="none" stroke="#2b1d05" stroke-opacity="0.9" stroke-width="0.95" stroke-linejoin="round"/>
</g>
<path fill="#0a64ff" fill-rule="evenodd" d="M5.0 4.9H644.9V645.9H5.0ZM11.6 11.9V639.0H637.6V11.9Z"/>
<rect fill="#fff" x="6" y="6.2" width="24.8" height="4.7"/>
<rect fill="#fff" x="149" y="6.2" width="117" height="4.7"/>
<rect fill="#fff" x="383.7" y="6.2" width="117" height="4.7"/>
<rect fill="#fff" x="638.5" y="6.2" width="5.6" height="4.7"/>
<rect fill="#fff" x="6" y="639.8" width="122.4" height="5.2"/>
<rect fill="#fff" x="260.1" y="639.8" width="130" height="5.2"/>
<rect fill="#fff" x="638.1" y="639.8" width="5.5" height="5.2"/>
<rect fill="#fff" x="6" y="168.5" width="4.1" height="153.8"/>
<rect fill="#fff" x="6" y="477.1" width="4.1" height="167.9"/>
<rect fill="#fff" x="639" y="168.5" width="4.6" height="153.8"/>
<rect fill="#fff" x="639" y="477.1" width="4.6" height="167.9"/>
<text x="33.3" y="617.2" font-size="25.6">Spain JJA</text>
</g>
<g transform="translate(650 651)">
<g clip-path="url(#cp)">
<path d="M30.1 17.7L28.1 47.6L26.1 77.6L24.2 107.7L22.4 137.9L20.5 168.2L18.7 198.9L16.9 229.7L15.2 260.5L13.5 291.4L11.9 322.4L10.3 353.2L8.9 384.1L7.4 415L6.1 445.9L4.7 476.9L3.5 508.1L2.2 539.4L1 570.6L-0.1 601.9L-1.1 633.1M148 17.7L146.8 47.6L145.6 77.6L144.5 107.7L143.4 137.9L142.3 168.2L141.2 198.9L140.1 229.7L139.1 260.5L138.1 291.4L137.1 322.4L136.2 353.2L135.3 384.1L134.4 415L133.6 445.9L132.8 476.9L132 508.1L131.3 539.4L130.6 570.6L129.9 601.9L129.3 633.1M265.9 17.7L265.5 47.6L265.1 77.6L264.8 107.7L264.4 137.9L264 168.2L263.7 198.9L263.3 229.7L263 260.5L262.6 291.4L262.3 322.4L262 353.2L261.7 384.1L261.4 415L261.1 445.9L260.9 476.9L260.6 508.1L260.4 539.4L260.1 570.6L259.9 601.9L259.7 633.1M383.9 17.7L384.3 47.6L384.7 77.6L385 107.7L385.4 137.9L385.8 168.2L386.1 198.9L386.5 229.7L386.8 260.5L387.2 291.4L387.5 322.4L387.8 353.2L388.1 384.1L388.4 415L388.7 445.9L388.9 476.9L389.2 508.1L389.4 539.4L389.7 570.6L389.9 601.9L390.1 633.1M501.8 17.7L503 47.6L504.2 77.6L505.3 107.7L506.4 137.9L507.5 168.2L508.6 198.9L509.7 229.7L510.7 260.5L511.7 291.4L512.7 322.4L513.6 353.2L514.5 384.1L515.4 415L516.2 445.9L517 476.9L517.8 508.1L518.5 539.4L519.2 570.6L519.9 601.9L520.5 633.1M619.7 17.7L621.7 47.6L623.7 77.6L625.6 107.7L627.4 137.9L629.3 168.2L631.1 198.9L632.9 229.7L634.6 260.5L636.3 291.4L637.9 322.4L639.5 353.2L640.9 384.1L642.4 415L643.7 445.9L645.1 476.9L646.3 508.1L647.6 539.4L648.8 570.6L649.9 601.9L650.9 633.1" fill="none" stroke="#0a64ff" stroke-width="1.3" stroke-dasharray="2.5 5.95"/><path d="M30.1 17.7H619.7M20.5 168.2H629.3M11.9 322.4H637.9M4.7 476.9H645.1M-1.1 633.1H650.9" fill="none" stroke="#0a64ff" stroke-width="1.3" stroke-dasharray="3.2 5.25"/>
<path d="M421.5 11.5L413.9 16.9L403.1 20.8L388.5 27.4L393.5 33.5L385.4 37.2L375.4 37.2L356.9 36.9L354.3 27.7L340.8 27.4L340.3 33.1L346.1 40.8L348.5 49.2L349.2 57.7L336.9 60.3L327.7 58.1L320 61.1L312 53.5L300.8 53.2L293.1 56.1L280 58.5L271.2 61.9L276.1 67.7L281.5 68.5L276.6 70.5L281.9 73.8L275.4 77.7L283.1 84.3L287.7 81.8L297.7 84.3L307.7 85.1L310 93.1L316.1 89.2L323.9 92.3L326.1 98.5L339.2 100.8L331.5 103.8L333.1 110L338.5 117.7L346.1 123.8L353.1 126.9L358.1 128.2L360 136.9L360.5 145.4L357.2 147.7L366.9 153.8L369.2 158.5L372 166.9L370.5 167.7L364.3 156.6L358.1 154.6L357.2 161.5L356.1 169.2L357.4 174.6L355.4 184.6L353.1 200L351.5 206.2L349.2 213.1L343.1 216.9L336.1 219.2L330 219.7L326.9 219.2L316.9 215.7L306.9 217.7L300 214.6L293.9 214.6L283.1 216.9L278.5 216.9L267.7 216.2L256.9 213.1L245 211.5L214.2 212.7L211.9 211.9L203.5 207.3L198.8 206.5L191.9 206.5L186.5 209.2L182.7 212.7L182.3 215.4L180.8 218.5L175.8 219.2L169.6 219.6L164.2 222.7L159.6 226.2L157.9 227.7L160 230.8L163.5 233.1L167.3 235L166.9 236.9L164.6 243.8L170.4 240L167.3 245L165.4 246.5L168.1 248.8L171.9 250.4L173.5 250L171.5 252.7L168.5 255.8L166.5 257.7L166.9 260L168.1 262.3L168.8 270.8L169.6 282.3L170.4 290L171.5 290.8L171.5 300L168.5 307.7L165.4 318.5L163.1 326.1L157.7 336.9L153.1 344.6L150.5 350.8L150 362.8L150 362.3L160.8 356.9L164.6 353.1L163.1 359.2L155.4 366.6L163.1 369.2L168.9 371.2L163.8 370L164.6 376.1L166.9 392.3L164.6 399.2L162.3 406.9L162.3 414.3L173.1 412.8L186.2 414.3L188 415.9L187.7 413.9L199.2 410L210 408L213.5 407.2L221.5 414.8L227.5 417.7L225 422.3L230.7 430.1L231.5 436.3L240.4 443.6L248.7 441.4L254.9 434.7L266.1 430.8L276.1 423.9L287.7 422.6L300 423.1L316.1 424.1L326.9 420.8L336.9 419.2L343.1 406.9L350 400.5L367.7 394.6L370.8 386.1L374.6 374.6L383.9 367.7L392.8 361.5L383.9 352.3L379.5 341.5L383.1 330L383.9 329.2L391.5 319.2L400.8 307.7L408.8 299.2L410 293.1L423.9 287.7L436.1 283.9L448.5 276.1L459.2 269.2L466.1 263.9L465.4 246.9L463.1 236.9L462.6 229.2L466.1 223.8L474.6 218.5L486.1 211.8L493.1 216.2L503.1 218.2L508.5 214.6L510.8 216.9L520.8 222.3L521.5 222.3L531.5 225.8L541.5 225.8L549.5 223.1L553.1 217.7L561.5 210L572.3 205.4L583.9 201.5L591.5 193.1L601.5 186.5L610.8 188.5L621.5 194.6L630.8 197.7L636.1 204.6L639.2 210M332.3 41.2L336.1 40.3L335.7 42.5L332.3 41.2M322.3 34.1L324.6 32.3M332.6 25.5L333.4 26.1M300.9 87.7L301.9 88.6M307.2 96.2L309.5 98.9M327.4 116.6L328.1 117.4M348.5 131.1L353.1 132.6L350 132L348.5 131.1M352.8 137.4L355.4 143.1L354.1 138.5L352.8 137.4M263.9 63.1L265.4 65.4M265.4 12L260 16.9L249.5 15.1L255.4 11.1M446.1 335.4L450.8 338.5L454.6 336.1L456.9 340L460.8 343.1L467.7 342.3L471.5 336.9L474.3 332.3L467.7 327.7L466.1 323.9L457.7 327.4L450.8 331.5L446.1 335.4M465.1 325.4L466.6 324.3L467.2 326.1L465.4 326.5L465.1 325.4M418.5 355.1L420.8 351.5L426.1 349.2L428.5 351.5L425.4 356.9L421.5 358.1L418.5 355.1M423.1 361.5L426.1 363.4L424.6 360.9L423.1 361.5M492.8 321.5L494.9 324M618.5 229.5L620 236.9L621.5 247.7L622.8 253.8L620 263.1L618.5 273.9L614.6 279.7L609.2 276.1L605.9 271.5L604.6 263.9L601.5 256.9L599.2 250.8L601.5 245.4L606.1 241.5L616.1 239.2L616.9 233.1L618.5 229.5M616.9 284.3L623.1 287.7L626.9 294.6L630.8 303.1L631.5 309.2L630 318.5L629.2 327.7L628.9 338.5L628.5 344.6L623.1 348.5L614.6 346.9L612.3 355.4L605.4 356.9L601.2 353.1L598.5 346.1L598.5 336.9L600.8 326.9L596.9 319.2L596.1 312.3L592.3 304.6L591.5 295.4L598.5 297.7L606.1 292.3L612.3 287.7L616.9 284.3M538 228.9L538.9 229.5M544.1 228.9L545.1 229.5M594.1 288.6L595.1 289.2M628 228.2L628.9 228.8M628.5 294.3L629.4 294.9M621.1 283.5L622 284.1M596.1 348.1L597.1 348.8M634.6 242L635.5 242.6M634.6 237.4L638.8 236.5M131.5 640L136.6 630.8L135.1 615.4L134.6 593.9L140 576.9L149.2 563.9L155.4 546.1L166.9 533.5L180 525.4L198.5 516.1L213.5 506.9L223.1 490L227.7 480L232.3 467.7L237.7 452.3L252.3 449.5L255.4 455.4L259.2 463.9L276.9 472L293.1 468.1L311.5 467.4L317.4 472.6M344.6 472.3L357.7 460.5L373.1 454.3L386.9 452L399.2 440L400 438.9L416.9 430.8L434.6 428.5L453.1 427.7L468.5 423.1L485.4 418L505.4 418.5L523.1 426.1L540 420L553.9 413.9L570 417.4L578.1 413.9L592.3 419.2L606.9 416.9L622.3 407.7L639.2 407.2" fill="none" stroke="#050505" stroke-width="1.1" stroke-linejoin="round"/><path d="M131.5 640L136.6 630.8L135.1 615.4L134.6 593.9L140 576.9L149.2 563.9L155.4 546.1L166.9 533.5L180 525.4L198.5 516.1L213.5 506.9L223.1 490L227.7 480L232.3 467.7L237.7 452.3L252.3 449.5L255.4 455.4L259.2 463.9L276.9 472L293.1 468.1L311.5 467.4L317.4 472.6M344.6 472.3L357.7 460.5L373.1 454.3L386.9 452L399.2 440L400 438.9L416.9 430.8L434.6 428.5L453.1 427.7L468.5 423.1L485.4 418L505.4 418.5L523.1 426.1L540 420L553.9 413.9L570 417.4L578.1 413.9L592.3 419.2L606.9 416.9L622.3 407.7L639.2 407.2" fill="none" stroke="#050505" stroke-width="1.25" stroke-linejoin="round"/>
<path fill="#ffb264" d="M177.93 198.89L263.66 198.89L263.49 214.97L177.50 214.97Z"/>
<path fill="#ffb264" d="M288.16 198.89L300.41 198.89L300.33 214.97L288.05 214.97Z"/>
<path fill="#ffb264" d="M152.94 214.27L190.49 214.27L190.10 230.37L152.44 230.37Z"/>
<path fill="#ffc891" d="M189.79 214.27L325.60 214.27L325.60 230.37L189.40 230.37Z"/>
<path fill="#ffb264" d="M324.90 214.27L349.47 214.27L349.54 230.37L324.90 230.37Z"/>
<path fill="#ffb264" d="M152.44 229.67L177.78 229.67L177.36 245.09L151.95 245.09Z"/>
<path fill="#ffc891" d="M177.08 229.67L190.10 229.67L189.71 245.09L176.66 245.09Z"/>
<path fill="#ffc891" d="M189.40 229.67L214.73 229.67L214.42 245.79L189.01 245.79Z"/>
<path fill="#ffdc96" d="M214.03 229.67L276.33 229.67L276.19 245.79L213.72 245.79Z"/>
<path fill="#ffc891" d="M275.63 229.67L288.64 229.67L288.54 245.79L275.49 245.79Z"/>
<path fill="#ffdc96" d="M287.94 229.67L313.28 229.67L313.25 245.79L287.84 245.79Z"/>
<path fill="#ffc891" d="M312.58 229.67L362.56 229.67L362.66 245.79L312.55 245.79Z"/>
<path fill="#ffdc96" d="M361.86 229.67L374.87 229.67L375.01 245.79L361.96 245.79Z"/>
<path fill="#fff285" d="M374.17 229.67L399.51 229.67L399.72 245.79L374.31 245.79Z"/>
<path fill="#ffdc96" d="M398.81 229.67L423.45 229.67L423.73 245.79L399.02 245.79Z"/>
<path fill="#ffc891" d="M189.01 245.09L202.07 245.09L201.72 260.52L188.63 260.52Z"/>
<path fill="#ffdc96" d="M201.37 245.09L226.77 245.09L226.50 260.52L201.02 260.52Z"/>
<path fill="#ffdc96" d="M226.07 245.09L239.13 245.09L238.89 261.22L225.80 261.22Z"/>
<path fill="#ffc891" d="M238.43 245.09L300.89 245.09L300.82 261.22L238.19 261.22Z"/>
<path fill="#ffdc96" d="M300.19 245.09L337.95 245.09L337.99 261.22L300.12 261.22Z"/>
<path fill="#ffb264" d="M337.25 245.09L350.31 245.09L350.38 261.22L337.29 261.22Z"/>
<path fill="#ffc891" d="M349.61 245.09L412.07 245.09L412.31 261.22L349.68 261.22Z"/>
<path fill="#ffdc96" d="M411.37 245.09L449.13 245.09L449.48 261.22L411.61 261.22Z"/>
<path fill="#ffb264" d="M448.43 245.09L473.14 245.09L473.55 261.22L448.78 261.22Z"/>
<path fill="#ffc891" d="M225.80 260.52L313.21 260.52L313.18 276.67L225.53 276.67Z"/>
<path fill="#ffdc96" d="M312.51 260.52L337.99 260.52L338.02 276.67L312.48 276.67Z"/>
<path fill="#ffc891" d="M337.29 260.52L350.38 260.52L350.44 276.67L337.32 276.67Z"/>
<path fill="#ffb264" d="M349.68 260.52L449.48 260.52L449.82 276.67L349.74 276.67Z"/>
<path fill="#ffb264" d="M448.78 260.52L461.87 260.52L462.24 275.97L449.12 275.97Z"/>
<path fill="#ff963c" d="M461.17 260.52L473.55 260.52L473.96 275.97L461.54 275.97Z"/>
<path fill="#ffc891" d="M225.53 275.97L300.76 275.97L300.69 292.13L225.26 292.13Z"/>
<path fill="#ffdc96" d="M300.06 275.97L362.87 275.97L362.97 292.13L299.99 292.13Z"/>
<path fill="#ffc891" d="M362.17 275.97L375.29 275.97L375.42 292.13L362.27 292.13Z"/>
<path fill="#ffb264" d="M374.59 275.97L412.55 275.97L412.79 292.13L374.72 292.13Z"/>
<path fill="#ffb264" d="M411.85 275.97L424.97 275.97L425.24 291.43L412.09 291.43Z"/>
<path fill="#ff963c" d="M424.27 275.97L449.12 275.97L449.45 291.43L424.54 291.43Z"/>
<path fill="#ffc891" d="M225.26 291.43L325.60 291.43L325.60 307.61L225.00 307.61Z"/>
<path fill="#ffdc96" d="M324.90 291.43L375.42 291.43L375.55 307.61L324.90 307.61Z"/>
<path fill="#ffc891" d="M374.72 291.43L387.88 291.43L388.04 307.61L374.85 307.61Z"/>
<path fill="#ffb264" d="M387.18 291.43L400.33 291.43L400.53 307.61L387.34 307.61Z"/>
<path fill="#ff963c" d="M399.63 291.43L412.09 291.43L412.32 306.91L399.83 306.91Z"/>
<path fill="#ffc891" d="M225.00 306.91L275.65 306.91L275.52 323.10L224.74 323.10Z"/>
<path fill="#ffb264" d="M274.95 306.91L300.62 306.91L300.56 323.10L274.82 323.10Z"/>
<path fill="#ffc891" d="M299.92 306.91L325.60 306.91L325.60 323.10L299.86 323.10Z"/>
<path fill="#ffdc96" d="M324.90 306.91L375.55 306.91L375.68 323.10L324.90 323.10Z"/>
<path fill="#ffc891" d="M374.85 306.91L388.04 306.91L388.20 323.10L374.98 323.10Z"/>
<path fill="#ff963c" d="M387.34 306.91L399.83 306.91L400.02 322.40L387.50 322.40Z"/>
<path fill="#ff963c" d="M474.75 306.91L499.73 306.91L500.18 323.10L475.14 323.10Z"/>
<path fill="#ffb264" d="M212.22 322.40L288.04 322.40L287.95 338.50L211.94 338.50Z"/>
<path fill="#ffc891" d="M287.34 322.40L363.16 322.40L363.25 338.50L287.25 338.50Z"/>
<path fill="#ffb264" d="M362.46 322.40L375.68 322.40L375.81 338.50L362.55 338.50Z"/>
<path fill="#ff963c" d="M374.98 322.40L387.50 322.40L387.66 338.50L375.11 338.50Z"/>
<path fill="#ff963c" d="M437.58 322.40L450.80 322.40L451.11 337.80L437.86 337.80Z"/>
<path fill="#ff963c" d="M450.10 322.40L475.84 322.40L476.22 338.50L450.41 338.50Z"/>
<path fill="#ff963c" d="M475.14 322.40L500.18 322.40L500.62 337.80L475.52 337.80Z"/>
<path fill="#ffb264" d="M211.94 337.80L275.39 337.80L275.27 353.92L211.66 353.92Z"/>
<path fill="#ffc891" d="M274.69 337.80L300.50 337.80L300.44 353.92L274.57 353.92Z"/>
<path fill="#ffb264" d="M299.80 337.80L313.05 337.80L313.02 353.92L299.74 353.92Z"/>
<path fill="#ffc891" d="M312.35 337.80L363.25 337.80L363.35 353.92L312.32 353.92Z"/>
<path fill="#ffb264" d="M362.55 337.80L375.81 337.80L375.93 353.92L362.65 353.92Z"/>
<path fill="#ff963c" d="M375.11 337.80L387.66 337.80L387.81 353.92L375.23 353.92Z"/>
<path fill="#ff963c" d="M412.76 337.80L426.01 337.80L426.26 353.92L412.98 353.92Z"/>
<path fill="#ff963c" d="M425.31 337.80L437.86 337.80L438.14 353.22L425.56 353.22Z"/>
<path fill="#ff963c" d="M450.41 337.80L475.52 337.80L475.89 353.22L450.72 353.22Z"/>
<path fill="#ffb264" d="M211.66 353.22L275.27 353.22L275.15 369.34L211.39 369.34Z"/>
<path fill="#ffc891" d="M274.57 353.22L363.35 353.22L363.44 369.34L274.45 369.34Z"/>
<path fill="#ffb264" d="M362.65 353.22L375.93 353.22L376.05 369.34L362.74 369.34Z"/>
<path fill="#ff963c" d="M375.23 353.22L388.51 353.22L388.66 369.34L375.35 369.34Z"/>
<path fill="#ff963c" d="M387.81 353.22L400.39 353.22L400.57 368.64L387.96 368.64Z"/>
<path fill="#ff963c" d="M412.98 353.22L425.56 353.22L425.80 368.64L413.19 368.64Z"/>
<path fill="#ffb264" d="M211.39 368.64L312.99 368.64L312.96 384.78L211.12 384.78Z"/>
<path fill="#ffc891" d="M312.29 368.64L338.21 368.64L338.24 384.78L312.26 384.78Z"/>
<path fill="#ffb264" d="M337.51 368.64L363.44 368.64L363.53 384.78L337.54 384.78Z"/>
<path fill="#ff963c" d="M362.74 368.64L376.05 368.64L376.17 384.78L362.83 384.78Z"/>
<path fill="#ff963c" d="M375.35 368.64L387.96 368.64L388.11 384.08L375.47 384.08Z"/>
<path fill="#ff963c" d="M211.12 384.08L224.47 384.08L224.24 400.23L210.87 400.23Z"/>
<path fill="#ffb264" d="M223.77 384.08L312.96 384.08L312.93 400.23L223.54 400.23Z"/>
<path fill="#ffc891" d="M312.26 384.08L338.24 384.08L338.27 400.23L312.23 400.23Z"/>
<path fill="#ffb264" d="M337.54 384.08L350.88 384.08L350.94 400.23L337.57 400.23Z"/>
<path fill="#ffb264" d="M350.18 384.08L363.53 384.08L363.61 399.53L350.24 399.53Z"/>
<path fill="#ff963c" d="M362.83 384.08L375.47 384.08L375.58 399.53L362.91 399.53Z"/>
<path fill="#ff963c" d="M210.87 399.53L224.24 399.53L224.01 414.98L210.61 414.98Z"/>
<path fill="#ff963c" d="M223.54 399.53L262.25 399.53L262.11 415.68L223.31 415.68Z"/>
<path fill="#ffb264" d="M261.55 399.53L300.26 399.53L300.20 415.68L261.41 415.68Z"/>
<path fill="#ffc891" d="M299.56 399.53L325.60 399.53L325.60 415.68L299.50 415.68Z"/>
<path fill="#ffb264" d="M324.90 399.53L338.27 399.53L338.30 415.68L324.90 415.68Z"/>
<path fill="#ff963c" d="M337.57 399.53L350.24 399.53L350.30 415.68L337.60 415.68Z"/>
<path fill="#ff963c" d="M223.31 414.98L249.41 414.98L249.24 431.14L223.09 431.14Z"/>
<path fill="#ffb264" d="M248.71 414.98L262.11 414.98L261.97 430.44L248.54 430.44Z"/>
<path fill="#ff963c" d="M261.41 414.98L287.50 414.98L287.42 430.44L261.27 430.44Z"/>
<path fill="#ffb264" d="M286.80 414.98L312.90 414.98L312.87 430.44L286.72 430.44Z"/>
<path fill="#ff963c" d="M312.20 414.98L363.00 414.98L363.08 430.44L312.17 430.44Z"/>
<path fill="#ff963c" d="M223.09 430.44L248.54 430.44L248.38 445.91L222.87 445.91Z"/>
<path fill="#fff" d="M422.6 241.5L424 240.2L426.8 239.9L430 241.1L430.5 243.4L428.6 245.2L425.8 246.4L423.1 246.2L422.4 243.8L422.6 241.5Z"/>
<path d="M317.4 472.6L344.6 472.3M170 260.8L173.1 258.5L180.8 256.6L184.6 256.1L186.2 259.2L183.1 260.8L184.6 264.6L189.2 263.1L193.1 264.3L197.7 263.9L199.2 265.4L203.1 264.6L207.7 265.4L209.2 261.5L213.8 262.3L217.7 260.8L223.8 261.5L225.4 270.8L229.2 270L233.1 273.9L228.5 280L225.4 283.1L220 284.6L218.5 290L214.6 290.8L216.9 296.9L216.2 303.1L218.5 307.7L217.7 311.5L213.8 313.9L211.5 316.9L215.4 319.2L215.1 323.1L213.8 327.7L212.3 332.3L198.5 333.1L198.5 333.1L203.1 337.7L203.8 342.3L206.9 348.5L211.5 350L210.8 356.1L206.2 359.2L203.4 365.4L203.1 370L208.5 377.7L211.5 379.2L207.7 383.9L203.1 385.4L199.2 393.1L197.7 397.7L199.2 402.3L200 409.2M343.1 216.9L346.9 220.8L352.3 220.8L353.1 226.2L350.8 226.9L354.6 228.5L360.8 230L368.5 230.8L373.1 235.4L379.2 234.6L385.4 238.5L391.5 237.7L397.7 239.2L403.9 238.5L404.6 234.6L410 235.4L416.1 238.5L415.9 238.3L420.3 238.5L422.6 241.5L422.4 243.8L423.1 246.2L425.8 246.4L428.6 245.2L431.4 245.2L435.1 246.2L436.5 244.8L435.8 247.5L436.9 249.4L439.2 248.2L442.9 247.5L446.1 248.5L448.4 249.8L452.1 250.1L453.5 248.5L455.4 247.8L460 245.9L465.4 246.9M422.6 241.5L424 240.2L426.8 239.9L430 241.1L430.5 243.4L428.6 245.2L425.8 246.4L423.1 246.2L422.4 243.8L422.6 241.5M480.8 12L482.3 16.1L486.1 19.2L492.3 18.5L494.6 13.8L497.7 13.1L498.1 17.7L499.2 23.9L504.6 25.4L509.2 29.2L513.9 32.3L520 30.8L523.9 33.1L528.5 33.9L533.1 32.3L537.7 34.6L541.5 39.2L545.4 42.3L550 41.5L554.6 43.9L559.2 42.3L563.9 45.4L570.8 46.1L578.5 48.5L575.4 54.6L570.8 59.2L568.5 66.2L566.9 73.1L564.6 78.5L565.4 85.4L564.9 90.8M525.4 12L520 18.5L520.8 23.1L523.1 27.7L523.9 33.1M528.5 13.1L530 18.5L536.9 23.9L536.1 28.5L533.1 32.3M564.9 90.8L570.8 91.1L578.5 89.2L585.4 90L586.1 85.4L590 83.8L593.9 85.4L590.8 88.5L595.4 87.4L603.1 87.7L609.2 90L614.6 92L617.7 92M564.9 90.8L559.2 93.1L554.6 93.8L550 96.2L552.3 98.5L547.7 103.8L540.8 109.2L539.2 114.6L533.9 119.2L531.5 125.4L529.2 132.3L533.1 133.1L536.9 130L535.4 127.7L540 124.9L546.1 124.3L549.2 126.9L550 132.3L553.9 137.7L555.4 140.8M555.4 140.8L563.1 139.2L570.8 137.7L575.4 140L580.8 133.8L582.3 128.5L587.7 124.6L589.2 130L593.9 133.8L599.2 136.9L601.5 143.1L604.6 141.5L603.9 136.9L607.7 130.8L609.2 123.1L613.1 123.1L615.4 128.5L620.8 127.7L626.1 126.2L628.5 130.8L630.8 130L629.2 124.6L631.5 119.2L637.7 121.5L640 121.5M635.4 118.5L636.1 113.1L638.5 110M555.4 140.8L550 144.6L552.3 148.5L554.6 151.5L558.5 155.4L557.7 160L553.1 162.3L547.7 165.4L548.5 169.2L553.9 171.5L557.7 176.9L554.6 180L553.1 186.2L556.9 190.8L563.1 193.8L570.8 193.1L573.9 196.2L572.6 200L573.1 198.5L570.8 203.8L569.2 205.4M332.3 475.4L336.9 479.2L344.3 484.6L342.3 489.2L345.4 493.1L343.4 496.1L346.1 504.6L344.6 515.4L347.4 520L346.9 530.8L351.1 537.7L350 541.5L354.6 548.5L363.5 554.6L357.7 560L356.9 565.4L359.2 566.5L357.7 567.7L341.5 566.9L327.7 565.9L314.6 568L313.1 574.6L299.2 580.3L292.3 579.7L290 583.1L292.3 589.2L290.8 595.4L296.1 600L295.4 603.1L285.4 604.9L280 610L275.4 612.3L261.5 618.5L255.4 628.5L243.8 636.6M606.9 417.7L608.5 420L603.1 421.5L602.3 426.1L596.9 429.2L601.5 431.5L600 439.2L599.2 450L601.5 457.7L600.8 465.4L604.3 469.2L601.5 476.1L601.2 486.9L596.9 491.5L590 495.4L588.5 500.8L583.1 503.1L581.5 510L583.9 517.7L587.7 525.4L588.9 531.5L597.7 535.9L603.9 543.9L605.4 553.1L615.4 560.8L624.6 567.7L624.6 566.9L638.5 621.5" fill="none" stroke="#a2a2a2" stroke-width="1.25" stroke-linejoin="round"/>
<path d="M421.5 11.5L413.9 16.9L403.1 20.8L388.5 27.4L393.5 33.5L385.4 37.2L375.4 37.2L356.9 36.9L354.3 27.7L340.8 27.4L340.3 33.1L346.1 40.8L348.5 49.2L349.2 57.7L336.9 60.3L327.7 58.1L320 61.1L312 53.5L300.8 53.2L293.1 56.1L280 58.5L271.2 61.9L276.1 67.7L281.5 68.5L276.6 70.5L281.9 73.8L275.4 77.7L283.1 84.3L287.7 81.8L297.7 84.3L307.7 85.1L310 93.1L316.1 89.2L323.9 92.3L326.1 98.5L339.2 100.8L331.5 103.8L333.1 110L338.5 117.7L346.1 123.8L353.1 126.9L358.1 128.2L360 136.9L360.5 145.4L357.2 147.7L366.9 153.8L369.2 158.5L372 166.9L370.5 167.7L364.3 156.6L358.1 154.6L357.2 161.5L356.1 169.2L357.4 174.6L355.4 184.6L353.1 200L351.5 206.2L349.2 213.1L343.1 216.9L336.1 219.2L330 219.7L326.9 219.2L316.9 215.7L306.9 217.7L300 214.6L293.9 214.6L283.1 216.9L278.5 216.9L267.7 216.2L256.9 213.1L245 211.5L214.2 212.7L211.9 211.9L203.5 207.3L198.8 206.5L191.9 206.5L186.5 209.2L182.7 212.7L182.3 215.4L180.8 218.5L175.8 219.2L169.6 219.6L164.2 222.7L159.6 226.2L157.9 227.7L160 230.8L163.5 233.1L167.3 235L166.9 236.9L164.6 243.8L170.4 240L167.3 245L165.4 246.5L168.1 248.8L171.9 250.4L173.5 250L171.5 252.7L168.5 255.8L166.5 257.7L166.9 260L168.1 262.3L168.8 270.8L169.6 282.3L170.4 290L171.5 290.8L171.5 300L168.5 307.7L165.4 318.5L163.1 326.1L157.7 336.9L153.1 344.6L150.5 350.8L150 362.8L150 362.3L160.8 356.9L164.6 353.1L163.1 359.2L155.4 366.6L163.1 369.2L168.9 371.2L163.8 370L164.6 376.1L166.9 392.3L164.6 399.2L162.3 406.9L162.3 414.3L173.1 412.8L186.2 414.3L188 415.9L187.7 413.9L199.2 410L210 408L213.5 407.2L221.5 414.8L227.5 417.7L225 422.3L230.7 430.1L231.5 436.3L240.4 443.6L248.7 441.4L254.9 434.7L266.1 430.8L276.1 423.9L287.7 422.6L300 423.1L316.1 424.1L326.9 420.8L336.9 419.2L343.1 406.9L350 400.5L367.7 394.6L370.8 386.1L374.6 374.6L383.9 367.7L392.8 361.5L383.9 352.3L379.5 341.5L383.1 330L383.9 329.2L391.5 319.2L400.8 307.7L408.8 299.2L410 293.1L423.9 287.7L436.1 283.9L448.5 276.1L459.2 269.2L466.1 263.9L465.4 246.9L463.1 236.9L462.6 229.2L466.1 223.8L474.6 218.5L486.1 211.8L493.1 216.2L503.1 218.2L508.5 214.6L510.8 216.9L520.8 222.3L521.5 222.3L531.5 225.8L541.5 225.8L549.5 223.1L553.1 217.7L561.5 210L572.3 205.4L583.9 201.5L591.5 193.1L601.5 186.5L610.8 188.5L621.5 194.6L630.8 197.7L636.1 204.6L639.2 210M332.3 41.2L336.1 40.3L335.7 42.5L332.3 41.2M322.3 34.1L324.6 32.3M332.6 25.5L333.4 26.1M300.9 87.7L301.9 88.6M307.2 96.2L309.5 98.9M327.4 116.6L328.1 117.4M348.5 131.1L353.1 132.6L350 132L348.5 131.1M352.8 137.4L355.4 143.1L354.1 138.5L352.8 137.4M263.9 63.1L265.4 65.4M265.4 12L260 16.9L249.5 15.1L255.4 11.1M446.1 335.4L450.8 338.5L454.6 336.1L456.9 340L460.8 343.1L467.7 342.3L471.5 336.9L474.3 332.3L467.7 327.7L466.1 323.9L457.7 327.4L450.8 331.5L446.1 335.4M465.1 325.4L466.6 324.3L467.2 326.1L465.4 326.5L465.1 325.4M418.5 355.1L420.8 351.5L426.1 349.2L428.5 351.5L425.4 356.9L421.5 358.1L418.5 355.1M423.1 361.5L426.1 363.4L424.6 360.9L423.1 361.5M492.8 321.5L494.9 324M618.5 229.5L620 236.9L621.5 247.7L622.8 253.8L620 263.1L618.5 273.9L614.6 279.7L609.2 276.1L605.9 271.5L604.6 263.9L601.5 256.9L599.2 250.8L601.5 245.4L606.1 241.5L616.1 239.2L616.9 233.1L618.5 229.5M616.9 284.3L623.1 287.7L626.9 294.6L630.8 303.1L631.5 309.2L630 318.5L629.2 327.7L628.9 338.5L628.5 344.6L623.1 348.5L614.6 346.9L612.3 355.4L605.4 356.9L601.2 353.1L598.5 346.1L598.5 336.9L600.8 326.9L596.9 319.2L596.1 312.3L592.3 304.6L591.5 295.4L598.5 297.7L606.1 292.3L612.3 287.7L616.9 284.3M538 228.9L538.9 229.5M544.1 228.9L545.1 229.5M594.1 288.6L595.1 289.2M628 228.2L628.9 228.8M628.5 294.3L629.4 294.9M621.1 283.5L622 284.1M596.1 348.1L597.1 348.8M634.6 242L635.5 242.6M634.6 237.4L638.8 236.5M131.5 640L136.6 630.8L135.1 615.4L134.6 593.9L140 576.9L149.2 563.9L155.4 546.1L166.9 533.5L180 525.4L198.5 516.1L213.5 506.9L223.1 490L227.7 480L232.3 467.7L237.7 452.3L252.3 449.5L255.4 455.4L259.2 463.9L276.9 472L293.1 468.1L311.5 467.4L317.4 472.6M344.6 472.3L357.7 460.5L373.1 454.3L386.9 452L399.2 440L400 438.9L416.9 430.8L434.6 428.5L453.1 427.7L468.5 423.1L485.4 418L505.4 418.5L523.1 426.1L540 420L553.9 413.9L570 417.4L578.1 413.9L592.3 419.2L606.9 416.9L622.3 407.7L639.2 407.2" fill="none" stroke="#2b1d05" stroke-opacity="0.9" stroke-width="0.95" stroke-linejoin="round"/>
</g>
<path fill="#0a64ff" fill-rule="evenodd" d="M5.0 4.9H644.9V645.9H5.0ZM11.6 11.9V639.0H637.6V11.9Z"/>
<rect fill="#fff" x="6" y="6.2" width="24.8" height="4.7"/>
<rect fill="#fff" x="149" y="6.2" width="117" height="4.7"/>
<rect fill="#fff" x="383.7" y="6.2" width="117" height="4.7"/>
<rect fill="#fff" x="638.5" y="6.2" width="5.6" height="4.7"/>
<rect fill="#fff" x="6" y="639.8" width="122.4" height="5.2"/>
<rect fill="#fff" x="260.1" y="639.8" width="130" height="5.2"/>
<rect fill="#fff" x="638.1" y="639.8" width="5.5" height="5.2"/>
<rect fill="#fff" x="6" y="168.5" width="4.1" height="153.8"/>
<rect fill="#fff" x="6" y="477.1" width="4.1" height="167.9"/>
<rect fill="#fff" x="639" y="168.5" width="4.6" height="153.8"/>
<rect fill="#fff" x="639" y="477.1" width="4.6" height="167.9"/>
<text x="33.3" y="617.2" font-size="25.6">Spain SON</text>
</g>
<rect x="304.20" y="1332.8" width="34.58" height="29.8" fill="#0066ff" stroke="#111" stroke-width="0.7"/>
<rect x="338.77" y="1332.8" width="34.58" height="29.8" fill="#1a4dc8" stroke="#111" stroke-width="0.7"/>
<rect x="373.35" y="1332.8" width="34.58" height="29.8" fill="#333399" stroke="#111" stroke-width="0.7"/>
<rect x="407.93" y="1332.8" width="34.58" height="29.8" fill="#3f55a8" stroke="#111" stroke-width="0.7"/>
<rect x="442.50" y="1332.8" width="34.58" height="29.8" fill="#4676b8" stroke="#111" stroke-width="0.7"/>
<rect x="477.07" y="1332.8" width="34.58" height="29.8" fill="#74a0cc" stroke="#111" stroke-width="0.7"/>
<rect x="511.65" y="1332.8" width="34.58" height="29.8" fill="#b5d6e8" stroke="#111" stroke-width="0.7"/>
<rect x="546.23" y="1332.8" width="34.58" height="29.8" fill="#fff285" stroke="#111" stroke-width="0.7"/>
<rect x="580.80" y="1332.8" width="34.58" height="29.8" fill="#ffdc96" stroke="#111" stroke-width="0.7"/>
<rect x="615.38" y="1332.8" width="34.58" height="29.8" fill="#ffc891" stroke="#111" stroke-width="0.7"/>
<rect x="649.95" y="1332.8" width="34.58" height="29.8" fill="#ffb264" stroke="#111" stroke-width="0.7"/>
<rect x="684.53" y="1332.8" width="34.58" height="29.8" fill="#ff963c" stroke="#111" stroke-width="0.7"/>
<rect x="719.10" y="1332.8" width="34.58" height="29.8" fill="#ff6e32" stroke="#111" stroke-width="0.7"/>
<rect x="753.67" y="1332.8" width="34.58" height="29.8" fill="#ff482d" stroke="#111" stroke-width="0.7"/>
<rect x="788.25" y="1332.8" width="34.58" height="29.8" fill="#ff281e" stroke="#111" stroke-width="0.7"/>
<rect x="822.83" y="1332.8" width="34.58" height="29.8" fill="#e80f1e" stroke="#111" stroke-width="0.7"/>
<rect x="857.40" y="1332.8" width="34.58" height="29.8" fill="#c80023" stroke="#111" stroke-width="0.7"/>
<rect x="891.98" y="1332.8" width="34.58" height="29.8" fill="#af0023" stroke="#111" stroke-width="0.7"/>
<rect x="926.55" y="1332.8" width="34.58" height="29.8" fill="#960023" stroke="#111" stroke-width="0.7"/>
<rect x="961.12" y="1332.8" width="34.58" height="29.8" fill="#780023" stroke="#111" stroke-width="0.7"/>
<g font-size="18.7" text-anchor="middle">
<text x="304.6" y="1385.6">&lt;</text>
<text x="341.0" y="1385.6">-30</text>
<text x="375.6" y="1385.6">-25</text>
<text x="410.1" y="1385.6">-20</text>
<text x="444.7" y="1385.6">-15</text>
<text x="479.3" y="1385.6">-10</text>
<text x="513.9" y="1385.6">-5</text>
<text x="548.4" y="1385.6">0</text>
<text x="583.0" y="1385.6">3</text>
<text x="617.6" y="1385.6">6</text>
<text x="652.2" y="1385.6">9</text>
<text x="686.7" y="1385.6">12</text>
<text x="721.3" y="1385.6">15</text>
<text x="755.9" y="1385.6">18</text>
<text x="790.5" y="1385.6">21</text>
<text x="825.0" y="1385.6">24</text>
<text x="859.6" y="1385.6">27</text>
<text x="894.2" y="1385.6">30</text>
<text x="928.8" y="1385.6">33</text>
<text x="963.3" y="1385.6">36</text>
<text x="995.7" y="1385.6">&gt;</text>
</g>
<text x="649.7" y="1323.4" font-size="22.6" text-anchor="middle">Seasonal mean Minimum temperature (<tspan font-size="15" dy="-7">o</tspan><tspan dy="7">C)</tspan></text>
</svg></body></html>
